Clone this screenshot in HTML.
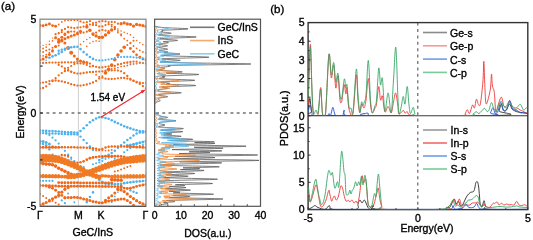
<!DOCTYPE html>
<html><head><meta charset="utf-8"><style>
html,body{margin:0;padding:0;background:#fff;width:533px;height:240px;overflow:hidden}
svg{display:block;will-change:transform;filter:blur(0.3px)}
</style></head><body>
<svg width="533" height="240" viewBox="0 0 533 240" font-family="Liberation Sans, sans-serif" fill="#000">
<defs><clipPath id="cpA"><rect x="40" y="19.2" width="106" height="187.10000000000002"/></clipPath>
<clipPath id="cpD"><rect x="154.6" y="19.2" width="105.9" height="187.10000000000002"/></clipPath>
<clipPath id="cpP1"><rect x="308.1" y="22.6" width="219.69999999999993" height="93.19999999999999"/></clipPath>
<clipPath id="cpP2"><rect x="308.1" y="115.8" width="219.69999999999993" height="93.8"/></clipPath></defs>
<rect width="533" height="240" fill="#fff"/>
<g clip-path="url(#cpA)"><line x1="78.4" y1="19.2" x2="78.4" y2="206.3" stroke="#cfcfcf" stroke-width="1"/><line x1="101.0" y1="19.2" x2="101.0" y2="206.3" stroke="#cfcfcf" stroke-width="1"/><g fill="#f06818"><circle cx="40.0" cy="25.5" r="1.45"/><circle cx="43.1" cy="25.7" r="1.45"/><circle cx="46.2" cy="24.9" r="1.45"/><circle cx="49.4" cy="24.0" r="1.45"/><circle cx="52.5" cy="25.6" r="1.45"/><circle cx="55.6" cy="26.2" r="1.45"/></g><g fill="#f06818"><circle cx="58.7" cy="24.5" r="0.90"/><circle cx="61.8" cy="21.9" r="0.90"/><circle cx="64.9" cy="20.7" r="0.90"/><circle cx="68.1" cy="20.3" r="0.90"/><circle cx="71.2" cy="20.2" r="0.90"/><circle cx="74.3" cy="20.2" r="0.90"/><circle cx="77.4" cy="20.3" r="0.90"/></g><g fill="#f06818"><circle cx="80.5" cy="21.4" r="1.10"/><circle cx="83.6" cy="22.5" r="1.10"/><circle cx="86.8" cy="22.2" r="1.10"/><circle cx="89.9" cy="21.2" r="1.10"/><circle cx="93.0" cy="23.1" r="1.10"/><circle cx="96.1" cy="22.7" r="1.10"/><circle cx="99.2" cy="21.6" r="1.10"/><circle cx="102.4" cy="21.1" r="1.10"/><circle cx="105.5" cy="21.4" r="1.10"/><circle cx="108.6" cy="22.0" r="1.10"/><circle cx="111.7" cy="21.9" r="1.10"/><circle cx="114.8" cy="22.1" r="1.10"/><circle cx="117.9" cy="23.7" r="1.10"/><circle cx="121.1" cy="23.7" r="1.60"/><circle cx="124.2" cy="22.9" r="1.60"/><circle cx="127.3" cy="23.9" r="1.60"/><circle cx="130.4" cy="24.3" r="1.60"/><circle cx="133.5" cy="26.1" r="1.60"/><circle cx="136.6" cy="24.4" r="1.60"/><circle cx="139.8" cy="25.0" r="1.60"/><circle cx="142.9" cy="25.6" r="1.60"/><circle cx="146.0" cy="26.5" r="1.60"/></g><g fill="#f06818"><circle cx="61.8" cy="30.1" r="1.10"/><circle cx="64.9" cy="28.9" r="1.10"/><circle cx="68.1" cy="27.2" r="1.10"/><circle cx="71.2" cy="27.7" r="1.10"/><circle cx="74.3" cy="28.1" r="1.10"/><circle cx="77.4" cy="27.7" r="1.10"/><circle cx="80.5" cy="27.3" r="1.10"/><circle cx="83.6" cy="26.6" r="1.10"/><circle cx="86.8" cy="25.2" r="1.10"/><circle cx="89.9" cy="24.5" r="1.10"/><circle cx="93.0" cy="24.9" r="1.10"/><circle cx="96.1" cy="25.2" r="1.10"/><circle cx="99.2" cy="26.4" r="1.10"/><circle cx="102.4" cy="26.4" r="1.10"/><circle cx="105.5" cy="25.1" r="1.10"/><circle cx="108.6" cy="24.2" r="1.10"/><circle cx="111.7" cy="24.8" r="1.10"/><circle cx="114.8" cy="27.2" r="1.10"/></g><g fill="#f06818"><circle cx="55.6" cy="34.2" r="1.10"/><circle cx="58.7" cy="33.1" r="1.10"/><circle cx="61.8" cy="32.2" r="1.10"/><circle cx="64.9" cy="33.7" r="1.10"/><circle cx="68.1" cy="32.1" r="1.10"/><circle cx="71.2" cy="31.5" r="1.10"/><circle cx="74.3" cy="31.6" r="1.10"/><circle cx="77.4" cy="32.5" r="1.10"/><circle cx="80.5" cy="32.9" r="1.10"/><circle cx="83.6" cy="32.6" r="1.10"/><circle cx="86.8" cy="31.7" r="1.10"/><circle cx="89.9" cy="30.7" r="1.10"/><circle cx="93.0" cy="34.1" r="1.10"/><circle cx="96.1" cy="32.6" r="1.10"/><circle cx="99.2" cy="30.7" r="1.10"/><circle cx="102.4" cy="29.9" r="1.10"/><circle cx="105.5" cy="30.6" r="1.10"/><circle cx="108.6" cy="31.1" r="1.10"/><circle cx="111.7" cy="30.0" r="1.10"/><circle cx="114.8" cy="29.2" r="1.10"/></g><g fill="#f06818"><circle cx="114.8" cy="27.4" r="0.80"/><circle cx="117.9" cy="29.1" r="0.80"/><circle cx="121.1" cy="31.0" r="0.80"/><circle cx="124.2" cy="32.3" r="0.80"/><circle cx="127.3" cy="33.5" r="0.80"/><circle cx="130.4" cy="34.9" r="0.80"/><circle cx="133.5" cy="37.5" r="0.80"/><circle cx="136.6" cy="40.5" r="0.80"/><circle cx="139.8" cy="42.8" r="0.80"/><circle cx="142.9" cy="44.6" r="0.80"/><circle cx="146.0" cy="46.0" r="0.80"/></g><g fill="#f06818"><circle cx="86.8" cy="26.9" r="1.70"/><circle cx="89.9" cy="30.3" r="1.70"/><circle cx="93.0" cy="34.0" r="1.70"/><circle cx="96.1" cy="35.9" r="1.70"/><circle cx="99.2" cy="37.5" r="1.70"/><circle cx="102.4" cy="37.3" r="1.70"/><circle cx="105.5" cy="35.0" r="1.70"/><circle cx="108.6" cy="32.6" r="1.70"/><circle cx="111.7" cy="30.0" r="1.70"/><circle cx="114.8" cy="27.3" r="1.10"/></g><g fill="#f06818"><circle cx="80.5" cy="44.4" r="0.80"/><circle cx="83.6" cy="41.6" r="0.80"/><circle cx="86.8" cy="39.5" r="0.80"/><circle cx="89.9" cy="37.6" r="0.80"/><circle cx="93.0" cy="35.2" r="0.80"/></g><g fill="#f06818"><circle cx="58.7" cy="42.2" r="1.50"/><circle cx="61.8" cy="40.2" r="1.50"/><circle cx="64.9" cy="38.7" r="1.50"/><circle cx="68.1" cy="37.3" r="1.50"/><circle cx="71.2" cy="36.1" r="1.50"/><circle cx="74.3" cy="34.9" r="1.50"/><circle cx="77.4" cy="33.7" r="1.50"/><circle cx="80.5" cy="31.2" r="1.50"/></g><g fill="#f06818"><circle cx="40.0" cy="60.0" r="1.50"/><circle cx="43.1" cy="59.1" r="1.50"/><circle cx="46.2" cy="57.0" r="1.50"/><circle cx="49.4" cy="54.5" r="1.50"/><circle cx="52.5" cy="50.9" r="1.50"/><circle cx="55.6" cy="46.6" r="1.50"/><circle cx="58.7" cy="41.3" r="1.50"/><circle cx="61.8" cy="37.2" r="1.50"/><circle cx="64.9" cy="34.6" r="1.50"/><circle cx="68.1" cy="32.0" r="1.50"/></g><g fill="#f06818"><circle cx="55.6" cy="37.8" r="1.50"/><circle cx="58.7" cy="39.4" r="1.50"/><circle cx="61.8" cy="41.0" r="1.50"/><circle cx="64.9" cy="43.1" r="1.50"/><circle cx="68.1" cy="48.0" r="2.00"/><circle cx="71.2" cy="52.7" r="2.00"/><circle cx="74.3" cy="56.0" r="1.50"/><circle cx="77.4" cy="59.1" r="1.50"/><circle cx="80.5" cy="61.1" r="1.50"/><circle cx="83.6" cy="61.9" r="1.50"/><circle cx="86.8" cy="62.6" r="1.50"/></g><g fill="#f06818"><circle cx="40.0" cy="47.0" r="0.90"/><circle cx="43.1" cy="48.5" r="0.90"/><circle cx="46.2" cy="47.1" r="0.90"/><circle cx="49.4" cy="44.3" r="0.90"/><circle cx="52.5" cy="40.8" r="0.90"/><circle cx="55.6" cy="37.5" r="0.90"/><circle cx="58.7" cy="33.4" r="0.90"/><circle cx="61.8" cy="30.1" r="0.90"/></g><g fill="#f06818"><circle cx="40.0" cy="43.0" r="0.70"/><circle cx="43.1" cy="45.4" r="0.70"/><circle cx="46.2" cy="44.6" r="0.70"/><circle cx="49.4" cy="41.3" r="0.70"/><circle cx="52.5" cy="38.1" r="0.70"/></g><g fill="#f06818"><circle cx="40.0" cy="51.0" r="1.00"/><circle cx="43.1" cy="52.0" r="1.00"/><circle cx="46.2" cy="50.6" r="1.00"/><circle cx="49.4" cy="49.6" r="1.00"/><circle cx="52.5" cy="47.8" r="1.00"/><circle cx="55.6" cy="46.6" r="1.00"/><circle cx="58.7" cy="45.6" r="1.00"/></g><g fill="#f06818"><circle cx="40.0" cy="55.8" r="0.90"/><circle cx="43.1" cy="55.8" r="0.90"/><circle cx="46.2" cy="54.6" r="0.90"/><circle cx="49.4" cy="52.6" r="0.90"/><circle cx="52.5" cy="50.2" r="0.90"/></g><g fill="#f06818"><circle cx="40.0" cy="63.0" r="1.15"/><circle cx="43.1" cy="63.0" r="1.15"/><circle cx="46.2" cy="62.8" r="1.15"/><circle cx="49.4" cy="62.6" r="1.15"/><circle cx="52.5" cy="62.6" r="1.15"/><circle cx="55.6" cy="62.6" r="1.15"/><circle cx="58.7" cy="62.6" r="1.15"/><circle cx="61.8" cy="62.5" r="1.15"/><circle cx="64.9" cy="62.3" r="1.15"/><circle cx="68.1" cy="62.3" r="1.15"/><circle cx="71.2" cy="62.3" r="1.15"/><circle cx="74.3" cy="62.4" r="1.15"/><circle cx="77.4" cy="61.4" r="1.15"/><circle cx="80.5" cy="61.0" r="1.15"/><circle cx="83.6" cy="61.7" r="1.15"/></g><g fill="#f06818"><circle cx="58.7" cy="64.9" r="1.10"/><circle cx="61.8" cy="66.4" r="1.10"/><circle cx="64.9" cy="68.4" r="1.10"/><circle cx="68.1" cy="70.2" r="1.10"/><circle cx="71.2" cy="71.8" r="1.10"/></g><g fill="#f06818"><circle cx="64.9" cy="70.4" r="1.10"/><circle cx="68.1" cy="67.8" r="1.10"/><circle cx="71.2" cy="66.0" r="1.10"/><circle cx="74.3" cy="64.1" r="1.10"/><circle cx="77.4" cy="63.3" r="1.10"/><circle cx="80.5" cy="63.4" r="1.10"/><circle cx="83.6" cy="63.8" r="1.10"/><circle cx="86.8" cy="64.9" r="1.10"/><circle cx="89.9" cy="66.5" r="1.10"/><circle cx="93.0" cy="66.0" r="1.10"/></g><g fill="#f06818"><circle cx="40.0" cy="88.4" r="1.15"/><circle cx="43.1" cy="88.0" r="1.15"/><circle cx="46.2" cy="86.4" r="1.15"/><circle cx="49.4" cy="83.9" r="1.15"/><circle cx="52.5" cy="81.2" r="1.15"/><circle cx="55.6" cy="78.2" r="1.15"/><circle cx="58.7" cy="75.3" r="1.15"/><circle cx="61.8" cy="73.1" r="1.15"/><circle cx="64.9" cy="71.2" r="1.15"/><circle cx="68.1" cy="70.6" r="1.15"/><circle cx="71.2" cy="71.7" r="1.15"/><circle cx="74.3" cy="72.9" r="1.15"/><circle cx="77.4" cy="73.6" r="1.15"/><circle cx="80.5" cy="73.5" r="1.15"/><circle cx="83.6" cy="73.0" r="1.15"/><circle cx="86.8" cy="72.5" r="1.15"/><circle cx="89.9" cy="72.1" r="1.15"/><circle cx="93.0" cy="71.9" r="1.15"/><circle cx="96.1" cy="71.7" r="1.15"/><circle cx="99.2" cy="71.6" r="1.15"/><circle cx="102.4" cy="71.3" r="1.15"/><circle cx="105.5" cy="70.7" r="1.15"/><circle cx="108.6" cy="70.5" r="1.15"/><circle cx="111.7" cy="70.4" r="1.15"/><circle cx="114.8" cy="70.3" r="1.15"/><circle cx="117.9" cy="70.6" r="1.15"/><circle cx="121.1" cy="71.3" r="1.15"/><circle cx="124.2" cy="73.2" r="1.15"/><circle cx="127.3" cy="76.0" r="1.15"/><circle cx="130.4" cy="78.9" r="1.15"/><circle cx="133.5" cy="80.9" r="1.15"/><circle cx="136.6" cy="82.4" r="1.15"/><circle cx="139.8" cy="84.0" r="1.15"/><circle cx="142.9" cy="86.2" r="1.15"/><circle cx="146.0" cy="88.5" r="1.15"/></g><g fill="#f06818"><circle cx="40.0" cy="83.1" r="1.15"/><circle cx="43.1" cy="82.6" r="1.15"/><circle cx="46.2" cy="82.1" r="1.15"/><circle cx="49.4" cy="81.1" r="1.15"/><circle cx="52.5" cy="80.5" r="1.15"/><circle cx="55.6" cy="80.5" r="1.15"/><circle cx="58.7" cy="80.9" r="1.15"/><circle cx="61.8" cy="81.4" r="1.15"/><circle cx="64.9" cy="82.2" r="1.15"/><circle cx="68.1" cy="83.1" r="1.15"/><circle cx="71.2" cy="84.2" r="1.15"/><circle cx="74.3" cy="85.0" r="1.15"/><circle cx="77.4" cy="85.6" r="1.15"/><circle cx="80.5" cy="85.6" r="1.15"/><circle cx="83.6" cy="85.2" r="1.15"/><circle cx="86.8" cy="84.5" r="1.15"/><circle cx="89.9" cy="83.6" r="1.15"/><circle cx="93.0" cy="82.5" r="1.15"/><circle cx="96.1" cy="80.9" r="1.15"/><circle cx="99.2" cy="78.5" r="1.15"/><circle cx="102.4" cy="77.7" r="1.15"/><circle cx="105.5" cy="78.7" r="1.15"/><circle cx="108.6" cy="78.9" r="1.15"/><circle cx="111.7" cy="79.0" r="1.15"/><circle cx="114.8" cy="78.8" r="1.15"/><circle cx="117.9" cy="78.3" r="1.15"/><circle cx="121.1" cy="77.9" r="1.15"/><circle cx="124.2" cy="78.0" r="1.15"/><circle cx="127.3" cy="78.6" r="1.15"/><circle cx="130.4" cy="79.7" r="1.15"/><circle cx="133.5" cy="80.7" r="1.15"/><circle cx="136.6" cy="81.8" r="1.15"/><circle cx="139.8" cy="82.7" r="1.15"/><circle cx="142.9" cy="83.1" r="1.15"/><circle cx="146.0" cy="83.1" r="1.15"/></g><g fill="#f06818"><circle cx="89.9" cy="63.6" r="1.15"/><circle cx="93.0" cy="65.8" r="1.15"/><circle cx="96.1" cy="66.8" r="1.15"/><circle cx="99.2" cy="67.5" r="1.15"/><circle cx="102.4" cy="67.4" r="1.15"/><circle cx="105.5" cy="66.8" r="1.15"/><circle cx="108.6" cy="66.3" r="1.15"/><circle cx="111.7" cy="66.1" r="1.15"/><circle cx="114.8" cy="65.9" r="1.15"/><circle cx="117.9" cy="64.5" r="1.15"/><circle cx="121.1" cy="64.0" r="1.15"/><circle cx="124.2" cy="62.9" r="1.15"/><circle cx="127.3" cy="62.5" r="1.15"/><circle cx="130.4" cy="62.0" r="1.15"/><circle cx="133.5" cy="61.6" r="1.15"/><circle cx="136.6" cy="61.7" r="1.15"/><circle cx="139.8" cy="62.7" r="1.15"/><circle cx="142.9" cy="63.1" r="1.15"/><circle cx="146.0" cy="63.5" r="1.15"/></g><g fill="#f06818"><circle cx="111.7" cy="68.9" r="0.90"/><circle cx="114.8" cy="68.3" r="0.90"/><circle cx="117.9" cy="67.6" r="0.90"/><circle cx="121.1" cy="66.6" r="0.90"/><circle cx="124.2" cy="66.2" r="0.90"/><circle cx="127.3" cy="65.6" r="0.90"/><circle cx="130.4" cy="64.5" r="0.90"/><circle cx="133.5" cy="64.1" r="0.90"/><circle cx="136.6" cy="63.6" r="0.90"/></g><g fill="#f06818"><circle cx="89.9" cy="72.0" r="0.90"/><circle cx="93.0" cy="72.2" r="0.90"/><circle cx="96.1" cy="74.7" r="0.90"/><circle cx="99.2" cy="76.7" r="0.90"/><circle cx="102.4" cy="76.1" r="0.90"/><circle cx="105.5" cy="73.1" r="0.90"/></g><g fill="#f06818"><circle cx="105.5" cy="72.9" r="1.80"/><circle cx="108.6" cy="69.2" r="1.80"/><circle cx="111.7" cy="65.0" r="1.80"/><circle cx="114.8" cy="59.8" r="1.80"/><circle cx="117.9" cy="55.0" r="1.80"/><circle cx="121.1" cy="51.0" r="1.80"/><circle cx="124.2" cy="47.3" r="1.80"/><circle cx="127.3" cy="44.9" r="1.00"/><circle cx="130.4" cy="42.8" r="1.00"/><circle cx="133.5" cy="40.7" r="1.00"/></g><g fill="#f06818"><circle cx="117.9" cy="32.5" r="0.90"/><circle cx="121.1" cy="35.5" r="0.90"/><circle cx="124.2" cy="38.7" r="0.90"/><circle cx="127.3" cy="40.6" r="0.90"/><circle cx="130.4" cy="43.3" r="0.90"/><circle cx="133.5" cy="46.0" r="0.90"/><circle cx="136.6" cy="48.4" r="0.90"/><circle cx="139.8" cy="50.4" r="0.90"/><circle cx="142.9" cy="51.9" r="0.90"/><circle cx="146.0" cy="53.0" r="0.90"/></g><g fill="#f06818"><circle cx="130.4" cy="48.5" r="1.40"/><circle cx="133.5" cy="51.6" r="1.40"/><circle cx="136.6" cy="54.8" r="1.40"/><circle cx="139.8" cy="57.2" r="1.40"/><circle cx="142.9" cy="59.1" r="1.40"/><circle cx="146.0" cy="60.0" r="1.40"/></g><g fill="#f06818"><circle cx="111.7" cy="26.7" r="0.90"/><circle cx="114.8" cy="28.7" r="0.90"/><circle cx="117.9" cy="30.9" r="0.90"/><circle cx="121.1" cy="34.2" r="0.90"/></g><g fill="#f06818"><circle cx="86.8" cy="46.4" r="0.80"/><circle cx="89.9" cy="43.3" r="0.80"/><circle cx="93.0" cy="41.6" r="0.80"/><circle cx="96.1" cy="40.9" r="0.80"/><circle cx="99.2" cy="41.2" r="0.80"/></g><g fill="#4cb2ee"><circle cx="40.0" cy="63.5" r="0.80"/><circle cx="43.1" cy="63.0" r="0.80"/><circle cx="46.2" cy="60.3" r="0.80"/><circle cx="49.4" cy="57.7" r="1.30"/><circle cx="52.5" cy="56.4" r="1.30"/><circle cx="55.6" cy="55.2" r="1.30"/><circle cx="58.7" cy="53.6" r="1.30"/><circle cx="61.8" cy="51.9" r="1.30"/><circle cx="64.9" cy="49.7" r="1.30"/><circle cx="68.1" cy="47.8" r="1.30"/><circle cx="71.2" cy="47.3" r="1.30"/><circle cx="74.3" cy="46.9" r="1.30"/><circle cx="77.4" cy="46.8" r="1.30"/><circle cx="80.5" cy="49.1" r="1.30"/><circle cx="83.6" cy="52.1" r="1.30"/><circle cx="86.8" cy="54.6" r="1.30"/><circle cx="89.9" cy="57.0" r="1.30"/><circle cx="93.0" cy="58.9" r="1.30"/><circle cx="96.1" cy="60.0" r="1.10"/><circle cx="99.2" cy="60.4" r="1.10"/><circle cx="102.4" cy="60.4" r="1.10"/><circle cx="105.5" cy="60.0" r="1.10"/><circle cx="108.6" cy="59.5" r="1.10"/><circle cx="111.7" cy="58.9" r="1.10"/><circle cx="114.8" cy="58.0" r="1.10"/><circle cx="117.9" cy="57.2" r="1.10"/><circle cx="121.1" cy="57.0" r="1.10"/><circle cx="124.2" cy="56.9" r="1.10"/><circle cx="127.3" cy="56.9" r="1.10"/><circle cx="130.4" cy="56.9" r="1.10"/><circle cx="133.5" cy="57.3" r="1.10"/><circle cx="136.6" cy="57.7" r="1.10"/><circle cx="139.8" cy="58.1" r="1.10"/><circle cx="142.9" cy="58.4" r="1.10"/><circle cx="146.0" cy="58.5" r="1.10"/></g><g fill="#4cb2ee"><circle cx="58.7" cy="50.7" r="1.20"/><circle cx="61.8" cy="49.6" r="1.20"/><circle cx="64.9" cy="48.7" r="1.20"/></g><g fill="#4cb2ee"><circle cx="127.3" cy="63.8" r="0.80"/><circle cx="130.4" cy="63.8" r="0.80"/><circle cx="133.5" cy="63.8" r="0.80"/><circle cx="136.6" cy="63.7" r="0.80"/><circle cx="139.8" cy="63.3" r="0.80"/><circle cx="142.9" cy="63.1" r="0.80"/><circle cx="146.0" cy="63.0" r="0.80"/></g><g fill="#4cb2ee"><circle cx="40.0" cy="130.5" r="1.30"/><circle cx="43.1" cy="130.7" r="1.30"/><circle cx="46.2" cy="130.9" r="1.30"/><circle cx="49.4" cy="131.0" r="1.30"/><circle cx="52.5" cy="131.1" r="1.30"/><circle cx="55.6" cy="131.3" r="1.30"/><circle cx="58.7" cy="131.5" r="1.30"/><circle cx="61.8" cy="131.7" r="1.30"/><circle cx="64.9" cy="132.0" r="1.30"/><circle cx="68.1" cy="132.2" r="1.30"/><circle cx="71.2" cy="132.4" r="1.30"/><circle cx="74.3" cy="132.5" r="1.30"/><circle cx="77.4" cy="132.8" r="1.30"/><circle cx="80.5" cy="131.0" r="1.30"/><circle cx="83.6" cy="128.2" r="1.30"/><circle cx="86.8" cy="125.3" r="1.30"/><circle cx="89.9" cy="122.2" r="1.30"/><circle cx="93.0" cy="120.3" r="1.30"/><circle cx="96.1" cy="118.5" r="1.30"/><circle cx="99.2" cy="117.2" r="1.30"/><circle cx="102.4" cy="117.3" r="1.30"/><circle cx="105.5" cy="118.0" r="1.30"/><circle cx="108.6" cy="118.8" r="1.30"/><circle cx="111.7" cy="120.2" r="1.30"/><circle cx="114.8" cy="121.9" r="1.30"/><circle cx="117.9" cy="123.3" r="1.30"/><circle cx="121.1" cy="124.7" r="1.30"/><circle cx="124.2" cy="126.2" r="1.30"/><circle cx="127.3" cy="127.4" r="1.30"/><circle cx="130.4" cy="128.4" r="1.30"/><circle cx="133.5" cy="129.5" r="1.30"/><circle cx="136.6" cy="130.3" r="1.30"/><circle cx="139.8" cy="131.0" r="1.30"/><circle cx="142.9" cy="131.2" r="1.30"/><circle cx="146.0" cy="131.2" r="1.30"/></g><g fill="#4cb2ee"><circle cx="40.0" cy="133.0" r="1.20"/><circle cx="43.1" cy="133.1" r="1.20"/><circle cx="46.2" cy="133.2" r="1.20"/><circle cx="49.4" cy="133.4" r="1.20"/><circle cx="52.5" cy="133.5" r="1.20"/><circle cx="55.6" cy="133.6" r="1.20"/><circle cx="58.7" cy="133.7" r="1.20"/><circle cx="61.8" cy="133.9" r="1.20"/><circle cx="64.9" cy="134.0" r="1.20"/><circle cx="68.1" cy="134.2" r="1.20"/><circle cx="71.2" cy="134.3" r="1.20"/><circle cx="74.3" cy="134.3" r="1.20"/><circle cx="77.4" cy="134.5" r="1.20"/><circle cx="80.5" cy="136.6" r="1.20"/><circle cx="83.6" cy="139.9" r="1.20"/><circle cx="86.8" cy="143.1" r="1.20"/><circle cx="89.9" cy="146.4" r="1.20"/><circle cx="93.0" cy="150.0" r="1.20"/></g><g fill="#4cb2ee"><circle cx="99.2" cy="159.9" r="1.25"/><circle cx="102.4" cy="158.1" r="1.25"/><circle cx="105.5" cy="156.3" r="1.25"/><circle cx="108.6" cy="154.7" r="1.25"/><circle cx="111.7" cy="152.9" r="1.25"/><circle cx="114.8" cy="150.7" r="1.25"/><circle cx="117.9" cy="147.8" r="1.25"/><circle cx="121.1" cy="145.2" r="1.25"/><circle cx="124.2" cy="142.6" r="1.25"/><circle cx="127.3" cy="140.1" r="1.25"/><circle cx="130.4" cy="137.9" r="1.25"/><circle cx="133.5" cy="135.4" r="1.25"/><circle cx="136.6" cy="133.5" r="1.25"/><circle cx="139.8" cy="132.5" r="1.25"/><circle cx="142.9" cy="132.4" r="1.25"/><circle cx="146.0" cy="132.4" r="1.25"/></g><g fill="#4cb2ee"><circle cx="46.2" cy="133.4" r="1.10"/><circle cx="49.4" cy="135.1" r="1.10"/><circle cx="52.5" cy="137.7" r="1.10"/><circle cx="55.6" cy="140.3" r="1.10"/><circle cx="58.7" cy="143.6" r="1.10"/><circle cx="61.8" cy="147.2" r="1.10"/><circle cx="64.9" cy="150.8" r="1.10"/><circle cx="68.1" cy="154.5" r="1.10"/><circle cx="71.2" cy="157.7" r="1.10"/><circle cx="74.3" cy="161.2" r="1.10"/><circle cx="77.4" cy="164.7" r="1.10"/><circle cx="80.5" cy="166.2" r="1.10"/><circle cx="83.6" cy="167.0" r="1.10"/></g><g fill="#4cb2ee"><circle cx="40.0" cy="141.2" r="1.50"/><circle cx="43.1" cy="141.5" r="1.50"/><circle cx="46.2" cy="142.6" r="1.50"/><circle cx="49.4" cy="143.9" r="1.50"/><circle cx="52.5" cy="146.8" r="1.50"/></g><g fill="#4cb2ee"><circle cx="40.0" cy="143.5" r="1.20"/><circle cx="43.1" cy="144.0" r="1.20"/><circle cx="46.2" cy="145.2" r="1.20"/><circle cx="49.4" cy="149.4" r="1.20"/><circle cx="52.5" cy="154.8" r="1.20"/></g><g fill="#4cb2ee"><circle cx="127.3" cy="145.4" r="1.50"/><circle cx="130.4" cy="144.9" r="1.50"/><circle cx="133.5" cy="144.3" r="1.50"/><circle cx="136.6" cy="143.6" r="1.50"/><circle cx="139.8" cy="142.8" r="1.50"/><circle cx="142.9" cy="142.0" r="1.50"/><circle cx="146.0" cy="141.1" r="1.50"/></g><g fill="#4cb2ee"><circle cx="124.2" cy="152.3" r="1.10"/><circle cx="127.3" cy="150.1" r="1.10"/><circle cx="130.4" cy="148.1" r="1.10"/><circle cx="133.5" cy="146.8" r="1.10"/><circle cx="136.6" cy="146.9" r="1.10"/><circle cx="139.8" cy="146.1" r="1.10"/><circle cx="142.9" cy="145.0" r="1.10"/><circle cx="146.0" cy="144.0" r="1.10"/></g><g fill="#4cb2ee"><circle cx="93.0" cy="164.2" r="1.00"/><circle cx="96.1" cy="163.3" r="1.00"/><circle cx="99.2" cy="162.4" r="1.00"/><circle cx="102.4" cy="160.9" r="1.00"/><circle cx="105.5" cy="159.1" r="1.00"/><circle cx="108.6" cy="157.7" r="1.00"/><circle cx="111.7" cy="157.2" r="1.00"/><circle cx="114.8" cy="158.8" r="1.00"/></g><g fill="#4cb2ee"><circle cx="40.0" cy="180.8" r="1.10"/><circle cx="43.1" cy="180.8" r="1.10"/><circle cx="46.2" cy="180.8" r="1.10"/><circle cx="49.4" cy="180.8" r="1.10"/><circle cx="52.5" cy="180.9" r="1.10"/></g><g fill="#4cb2ee"><circle cx="99.2" cy="179.5" r="1.35"/><circle cx="102.4" cy="182.0" r="1.35"/><circle cx="105.5" cy="183.6" r="1.35"/><circle cx="108.6" cy="183.9" r="1.35"/><circle cx="111.7" cy="184.1" r="1.35"/><circle cx="114.8" cy="184.2" r="1.35"/><circle cx="117.9" cy="184.1" r="1.35"/><circle cx="121.1" cy="183.8" r="1.35"/><circle cx="124.2" cy="183.2" r="1.35"/><circle cx="127.3" cy="182.7" r="1.35"/><circle cx="130.4" cy="182.3" r="1.35"/><circle cx="133.5" cy="181.9" r="1.35"/><circle cx="136.6" cy="181.6" r="1.35"/><circle cx="139.8" cy="181.3" r="1.35"/><circle cx="142.9" cy="181.0" r="1.35"/><circle cx="146.0" cy="180.8" r="1.35"/></g><g fill="#4cb2ee"><circle cx="64.9" cy="154.9" r="0.90"/><circle cx="68.1" cy="157.0" r="0.90"/><circle cx="71.2" cy="159.0" r="0.90"/><circle cx="74.3" cy="161.4" r="0.90"/><circle cx="77.4" cy="164.7" r="0.90"/></g><g fill="#4cb2ee"><circle cx="68.1" cy="193.6" r="1.00"/><circle cx="71.2" cy="197.9" r="1.00"/><circle cx="74.3" cy="202.3" r="1.00"/></g><g fill="#4cb2ee"><circle cx="86.8" cy="202.4" r="1.10"/><circle cx="89.9" cy="197.1" r="1.10"/><circle cx="93.0" cy="192.5" r="1.10"/></g><g fill="#4cb2ee"><circle cx="111.7" cy="202.3" r="0.90"/><circle cx="114.8" cy="196.4" r="0.90"/><circle cx="117.9" cy="192.1" r="0.90"/><circle cx="121.1" cy="188.6" r="0.90"/></g><g fill="#4cb2ee"><circle cx="130.4" cy="190.4" r="1.20"/><circle cx="133.5" cy="191.7" r="1.20"/><circle cx="136.6" cy="192.9" r="1.20"/></g><g fill="#4cb2ee"><circle cx="96.1" cy="177.0" r="1.00"/><circle cx="99.2" cy="176.1" r="1.00"/><circle cx="102.4" cy="176.5" r="1.00"/></g><g fill="#4cb2ee"><circle cx="58.7" cy="196.7" r="1.10"/><circle cx="61.8" cy="200.4" r="1.10"/><circle cx="64.9" cy="203.2" r="1.10"/></g><g fill="#4cb2ee"><circle cx="99.2" cy="179.9" r="1.10"/></g><g fill="#4cb2ee"><circle cx="86.8" cy="201.6" r="1.20"/><circle cx="89.9" cy="196.9" r="1.20"/><circle cx="93.0" cy="192.2" r="1.20"/></g><g fill="#f06818"><circle cx="40.0" cy="147.3" r="1.50"/><circle cx="43.1" cy="147.3" r="1.50"/><circle cx="46.2" cy="147.3" r="1.50"/><circle cx="49.4" cy="147.3" r="1.50"/><circle cx="52.5" cy="147.3" r="1.50"/><circle cx="55.6" cy="147.3" r="1.50"/><circle cx="58.7" cy="147.3" r="1.50"/><circle cx="61.8" cy="147.3" r="1.25"/><circle cx="64.9" cy="147.3" r="1.25"/><circle cx="68.1" cy="147.3" r="1.25"/><circle cx="71.2" cy="147.3" r="1.25"/><circle cx="74.3" cy="147.3" r="1.25"/><circle cx="77.4" cy="147.4" r="1.25"/><circle cx="80.5" cy="147.5" r="1.25"/><circle cx="83.6" cy="147.5" r="1.25"/><circle cx="86.8" cy="147.7" r="1.25"/><circle cx="89.9" cy="148.0" r="1.25"/><circle cx="93.0" cy="148.2" r="1.25"/><circle cx="96.1" cy="148.7" r="1.25"/><circle cx="99.2" cy="149.4" r="1.25"/><circle cx="102.4" cy="149.1" r="1.25"/><circle cx="105.5" cy="147.5" r="1.25"/><circle cx="108.6" cy="146.7" r="1.25"/><circle cx="111.7" cy="146.6" r="1.25"/><circle cx="114.8" cy="146.6" r="1.25"/><circle cx="117.9" cy="146.6" r="1.25"/><circle cx="121.1" cy="146.6" r="1.25"/><circle cx="124.2" cy="146.6" r="1.25"/><circle cx="127.3" cy="146.6" r="1.50"/><circle cx="130.4" cy="146.7" r="1.50"/><circle cx="133.5" cy="146.7" r="1.50"/><circle cx="136.6" cy="146.9" r="1.50"/><circle cx="139.8" cy="147.1" r="1.50"/><circle cx="142.9" cy="147.3" r="1.50"/><circle cx="146.0" cy="147.4" r="1.50"/></g><g fill="#f06818"><circle cx="96.1" cy="150.6" r="0.90"/><circle cx="99.2" cy="150.4" r="0.90"/><circle cx="102.4" cy="150.4" r="0.90"/><circle cx="105.5" cy="150.6" r="0.90"/><circle cx="108.6" cy="150.5" r="0.90"/><circle cx="111.7" cy="149.9" r="0.90"/></g><g fill="#f06818"><circle cx="68.1" cy="161.6" r="1.04"/><circle cx="71.2" cy="162.1" r="1.10"/><circle cx="74.3" cy="162.5" r="1.17"/><circle cx="77.4" cy="162.7" r="1.23"/><circle cx="80.5" cy="162.3" r="1.29"/><circle cx="83.6" cy="161.3" r="1.35"/><circle cx="86.8" cy="159.7" r="1.42"/><circle cx="89.9" cy="158.3" r="1.45"/><circle cx="93.0" cy="157.5" r="1.45"/><circle cx="96.1" cy="157.1" r="1.45"/><circle cx="99.2" cy="156.6" r="1.45"/><circle cx="102.4" cy="156.4" r="1.45"/><circle cx="105.5" cy="156.3" r="1.45"/><circle cx="108.6" cy="156.2" r="1.45"/><circle cx="111.7" cy="156.2" r="1.45"/><circle cx="114.8" cy="156.2" r="1.45"/><circle cx="117.9" cy="156.3" r="1.45"/><circle cx="121.1" cy="156.4" r="1.45"/><circle cx="124.2" cy="156.9" r="1.45"/></g><g fill="#f06818"><circle cx="61.8" cy="155.0" r="1.20"/><circle cx="64.9" cy="155.4" r="1.20"/><circle cx="68.1" cy="155.9" r="1.20"/></g><g fill="#f06818"><circle cx="40.0" cy="185.5" r="1.45"/><circle cx="43.1" cy="185.6" r="1.45"/><circle cx="46.2" cy="185.7" r="1.45"/><circle cx="49.4" cy="185.8" r="1.45"/><circle cx="52.5" cy="185.9" r="1.45"/><circle cx="55.6" cy="186.0" r="1.45"/><circle cx="58.7" cy="186.2" r="1.45"/><circle cx="61.8" cy="186.2" r="1.45"/><circle cx="64.9" cy="186.3" r="1.45"/><circle cx="68.1" cy="186.3" r="1.45"/><circle cx="71.2" cy="186.3" r="1.45"/><circle cx="74.3" cy="186.3" r="1.45"/><circle cx="77.4" cy="186.3" r="1.45"/><circle cx="80.5" cy="186.3" r="1.45"/><circle cx="83.6" cy="186.3" r="1.45"/><circle cx="86.8" cy="186.3" r="1.45"/><circle cx="89.9" cy="186.3" r="1.45"/><circle cx="93.0" cy="186.4" r="1.45"/><circle cx="96.1" cy="186.4" r="1.45"/><circle cx="99.2" cy="186.4" r="1.45"/><circle cx="102.4" cy="186.5" r="1.45"/><circle cx="105.5" cy="186.5" r="1.45"/><circle cx="108.6" cy="186.5" r="1.45"/><circle cx="111.7" cy="186.6" r="1.45"/><circle cx="114.8" cy="186.6" r="1.45"/><circle cx="117.9" cy="186.8" r="1.45"/><circle cx="121.1" cy="187.4" r="1.45"/><circle cx="124.2" cy="188.1" r="1.45"/><circle cx="127.3" cy="188.5" r="1.45"/><circle cx="130.4" cy="188.2" r="1.45"/><circle cx="133.5" cy="187.4" r="1.45"/><circle cx="136.6" cy="186.4" r="1.45"/><circle cx="139.8" cy="185.6" r="1.45"/><circle cx="142.9" cy="185.0" r="1.45"/><circle cx="146.0" cy="184.5" r="1.45"/></g><g fill="#f06818"><circle cx="58.7" cy="182.6" r="1.45"/><circle cx="61.8" cy="182.7" r="1.45"/><circle cx="64.9" cy="182.7" r="1.45"/><circle cx="68.1" cy="182.7" r="1.45"/><circle cx="71.2" cy="182.8" r="1.45"/><circle cx="74.3" cy="182.8" r="1.45"/><circle cx="77.4" cy="182.8" r="1.45"/><circle cx="80.5" cy="182.9" r="1.45"/><circle cx="83.6" cy="182.9" r="1.45"/><circle cx="86.8" cy="182.9" r="1.45"/><circle cx="89.9" cy="183.0" r="1.45"/><circle cx="93.0" cy="183.0" r="1.45"/><circle cx="96.1" cy="183.0" r="1.45"/><circle cx="99.2" cy="183.0" r="1.45"/><circle cx="102.4" cy="183.0" r="1.45"/><circle cx="105.5" cy="183.0" r="1.45"/><circle cx="108.6" cy="183.0" r="1.45"/><circle cx="111.7" cy="183.0" r="1.45"/></g><g fill="#f06818"><circle cx="111.7" cy="179.6" r="1.80"/><circle cx="114.8" cy="179.9" r="1.80"/><circle cx="117.9" cy="180.1" r="1.80"/><circle cx="121.1" cy="180.3" r="1.80"/></g><g fill="#f06818"><circle cx="40.0" cy="205.0" r="1.60"/><circle cx="43.1" cy="203.9" r="1.60"/><circle cx="46.2" cy="202.5" r="1.60"/><circle cx="49.4" cy="200.9" r="1.60"/><circle cx="52.5" cy="198.8" r="1.60"/><circle cx="55.6" cy="197.2" r="1.60"/><circle cx="58.7" cy="195.2" r="1.60"/><circle cx="61.8" cy="192.2" r="1.60"/><circle cx="64.9" cy="189.3" r="1.60"/><circle cx="68.1" cy="187.4" r="1.60"/></g><g fill="#f06818"><circle cx="46.2" cy="186.1" r="1.45"/><circle cx="49.4" cy="187.3" r="1.45"/><circle cx="52.5" cy="188.3" r="1.45"/><circle cx="55.6" cy="190.2" r="1.45"/><circle cx="58.7" cy="192.5" r="1.45"/><circle cx="61.8" cy="195.4" r="1.45"/><circle cx="64.9" cy="198.1" r="1.45"/></g><g fill="#f06818"><circle cx="64.9" cy="197.4" r="1.50"/><circle cx="68.1" cy="197.6" r="1.50"/><circle cx="71.2" cy="197.5" r="1.50"/><circle cx="74.3" cy="197.3" r="1.50"/><circle cx="77.4" cy="197.4" r="1.50"/><circle cx="80.5" cy="198.1" r="1.50"/><circle cx="83.6" cy="199.0" r="1.50"/><circle cx="86.8" cy="199.6" r="1.50"/><circle cx="89.9" cy="200.4" r="1.50"/><circle cx="93.0" cy="201.6" r="1.50"/><circle cx="96.1" cy="202.1" r="1.50"/><circle cx="99.2" cy="202.7" r="1.50"/><circle cx="102.4" cy="202.8" r="1.50"/><circle cx="105.5" cy="202.1" r="1.50"/><circle cx="108.6" cy="201.1" r="1.50"/><circle cx="111.7" cy="200.6" r="1.50"/><circle cx="114.8" cy="200.1" r="1.50"/><circle cx="117.9" cy="199.6" r="1.50"/><circle cx="121.1" cy="199.1" r="1.50"/><circle cx="124.2" cy="199.1" r="1.50"/><circle cx="127.3" cy="200.6" r="1.50"/><circle cx="130.4" cy="202.6" r="1.50"/><circle cx="133.5" cy="205.2" r="1.50"/></g><g fill="#f06818"><circle cx="105.5" cy="200.3" r="1.50"/><circle cx="108.6" cy="197.7" r="1.50"/><circle cx="111.7" cy="195.7" r="1.50"/><circle cx="114.8" cy="193.0" r="1.50"/><circle cx="117.9" cy="189.6" r="1.50"/><circle cx="121.1" cy="185.9" r="1.50"/></g><g fill="#f06818"><circle cx="117.9" cy="188.8" r="1.60"/><circle cx="121.1" cy="190.0" r="1.60"/><circle cx="124.2" cy="191.6" r="1.60"/><circle cx="127.3" cy="193.9" r="1.60"/><circle cx="130.4" cy="196.5" r="1.60"/><circle cx="133.5" cy="198.6" r="1.60"/><circle cx="136.6" cy="200.7" r="1.60"/><circle cx="139.8" cy="202.6" r="1.60"/><circle cx="142.9" cy="203.9" r="1.60"/><circle cx="146.0" cy="204.8" r="1.60"/></g><g fill="#f06818"><circle cx="40.0" cy="194.0" r="1.00"/><circle cx="43.1" cy="196.1" r="1.00"/><circle cx="46.2" cy="198.1" r="1.00"/><circle cx="49.4" cy="199.7" r="1.00"/><circle cx="52.5" cy="200.9" r="1.00"/><circle cx="55.6" cy="202.7" r="1.00"/><circle cx="58.7" cy="204.4" r="1.00"/></g><g fill="#f06818"><circle cx="114.8" cy="171.6" r="1.00"/><circle cx="117.9" cy="170.7" r="1.00"/><circle cx="121.1" cy="169.5" r="1.00"/><circle cx="124.2" cy="168.3" r="1.00"/><circle cx="127.3" cy="167.1" r="1.00"/><circle cx="130.4" cy="165.9" r="1.00"/></g><g fill="#f06818"><circle cx="40.0" cy="163.0" r="1.80"/><circle cx="43.1" cy="163.6" r="1.80"/><circle cx="46.2" cy="164.1" r="1.80"/><circle cx="49.4" cy="164.2" r="1.80"/><circle cx="52.5" cy="164.8" r="1.80"/><circle cx="55.6" cy="166.1" r="1.80"/><circle cx="58.7" cy="168.3" r="1.80"/><circle cx="61.8" cy="169.8" r="1.80"/><circle cx="64.9" cy="171.3" r="1.80"/><circle cx="68.1" cy="172.9" r="1.80"/><circle cx="71.2" cy="174.3" r="1.80"/><circle cx="74.3" cy="175.4" r="1.80"/></g><g fill="#f07b24"><circle cx="40.0" cy="155.7" r="1.95"/><circle cx="40.0" cy="157.0" r="1.95"/><circle cx="40.0" cy="158.3" r="1.95"/><circle cx="40.0" cy="159.6" r="1.95"/><circle cx="40.0" cy="161.0" r="1.95"/><circle cx="43.1" cy="155.7" r="1.95"/><circle cx="43.1" cy="157.0" r="1.95"/><circle cx="43.1" cy="158.2" r="1.95"/><circle cx="43.1" cy="159.5" r="1.95"/><circle cx="43.1" cy="160.8" r="1.95"/><circle cx="46.2" cy="155.8" r="1.95"/><circle cx="46.2" cy="157.4" r="1.95"/><circle cx="46.2" cy="159.0" r="1.95"/><circle cx="46.2" cy="160.6" r="1.95"/><circle cx="49.4" cy="155.9" r="1.95"/><circle cx="49.4" cy="157.5" r="1.95"/><circle cx="49.4" cy="159.0" r="1.95"/><circle cx="49.4" cy="160.6" r="1.95"/><circle cx="52.5" cy="156.2" r="1.95"/><circle cx="52.5" cy="157.7" r="1.95"/><circle cx="52.5" cy="159.2" r="1.95"/><circle cx="52.5" cy="160.7" r="1.95"/><circle cx="55.6" cy="156.7" r="1.95"/><circle cx="55.6" cy="158.1" r="1.95"/><circle cx="55.6" cy="159.5" r="1.95"/><circle cx="55.6" cy="161.0" r="1.95"/><circle cx="58.7" cy="157.3" r="1.95"/><circle cx="58.7" cy="158.7" r="1.95"/><circle cx="58.7" cy="160.0" r="1.95"/><circle cx="58.7" cy="161.4" r="1.95"/><circle cx="61.8" cy="158.4" r="1.95"/><circle cx="61.8" cy="159.7" r="1.95"/><circle cx="61.8" cy="160.9" r="1.95"/><circle cx="61.8" cy="162.2" r="1.95"/><circle cx="64.9" cy="159.6" r="1.95"/><circle cx="64.9" cy="160.8" r="1.95"/><circle cx="64.9" cy="162.0" r="1.95"/><circle cx="64.9" cy="163.3" r="1.95"/><circle cx="68.1" cy="161.0" r="1.95"/><circle cx="68.1" cy="162.2" r="1.95"/><circle cx="68.1" cy="163.3" r="1.95"/><circle cx="68.1" cy="164.5" r="1.95"/><circle cx="71.2" cy="162.5" r="1.95"/><circle cx="71.2" cy="163.6" r="1.95"/><circle cx="71.2" cy="164.7" r="1.95"/><circle cx="71.2" cy="165.7" r="1.95"/><circle cx="74.3" cy="164.0" r="1.95"/><circle cx="74.3" cy="165.0" r="1.95"/><circle cx="74.3" cy="166.0" r="1.95"/><circle cx="74.3" cy="167.0" r="1.95"/><circle cx="77.4" cy="165.6" r="1.95"/><circle cx="77.4" cy="167.0" r="1.95"/><circle cx="77.4" cy="168.4" r="1.95"/><circle cx="80.5" cy="167.4" r="1.95"/><circle cx="80.5" cy="168.7" r="1.95"/><circle cx="80.5" cy="170.0" r="1.95"/><circle cx="83.6" cy="169.3" r="1.95"/><circle cx="83.6" cy="170.5" r="1.95"/><circle cx="83.6" cy="171.7" r="1.95"/><circle cx="86.8" cy="171.1" r="1.95"/><circle cx="86.8" cy="172.2" r="1.95"/><circle cx="86.8" cy="173.3" r="1.95"/><circle cx="89.9" cy="172.8" r="1.95"/><circle cx="89.9" cy="173.7" r="1.95"/><circle cx="89.9" cy="174.7" r="1.95"/><circle cx="93.0" cy="174.2" r="1.95"/><circle cx="93.0" cy="175.1" r="1.95"/><circle cx="93.0" cy="175.9" r="1.95"/><circle cx="96.1" cy="175.4" r="1.95"/><circle cx="96.1" cy="176.2" r="1.95"/><circle cx="96.1" cy="177.0" r="1.95"/><circle cx="99.2" cy="176.4" r="1.95"/><circle cx="99.2" cy="177.1" r="1.95"/><circle cx="99.2" cy="177.7" r="1.95"/></g><g fill="#f07b24"><circle cx="68.1" cy="176.0" r="1.95"/><circle cx="68.1" cy="176.7" r="1.95"/><circle cx="68.1" cy="177.4" r="1.95"/><circle cx="71.2" cy="175.6" r="1.95"/><circle cx="71.2" cy="176.4" r="1.95"/><circle cx="71.2" cy="177.1" r="1.95"/><circle cx="74.3" cy="175.2" r="1.95"/><circle cx="74.3" cy="176.1" r="1.95"/><circle cx="74.3" cy="176.9" r="1.95"/><circle cx="77.4" cy="174.8" r="1.95"/><circle cx="77.4" cy="175.7" r="1.95"/><circle cx="77.4" cy="176.6" r="1.95"/><circle cx="80.5" cy="174.1" r="1.95"/><circle cx="80.5" cy="175.1" r="1.95"/><circle cx="80.5" cy="176.1" r="1.95"/><circle cx="83.6" cy="173.1" r="1.95"/><circle cx="83.6" cy="174.2" r="1.95"/><circle cx="83.6" cy="175.2" r="1.95"/><circle cx="86.8" cy="172.0" r="1.95"/><circle cx="86.8" cy="173.1" r="1.95"/><circle cx="86.8" cy="174.2" r="1.95"/><circle cx="89.9" cy="170.9" r="1.95"/><circle cx="89.9" cy="172.0" r="1.95"/><circle cx="89.9" cy="173.2" r="1.95"/><circle cx="93.0" cy="169.6" r="1.95"/><circle cx="93.0" cy="170.9" r="1.95"/><circle cx="93.0" cy="172.1" r="1.95"/><circle cx="96.1" cy="168.4" r="1.95"/><circle cx="96.1" cy="169.7" r="1.95"/><circle cx="96.1" cy="171.0" r="1.95"/><circle cx="99.2" cy="167.2" r="1.95"/><circle cx="99.2" cy="168.6" r="1.95"/><circle cx="99.2" cy="170.0" r="1.95"/><circle cx="102.4" cy="166.0" r="1.95"/><circle cx="102.4" cy="167.4" r="1.95"/><circle cx="102.4" cy="168.9" r="1.95"/><circle cx="105.5" cy="164.7" r="1.95"/><circle cx="105.5" cy="165.7" r="1.95"/><circle cx="105.5" cy="166.7" r="1.95"/><circle cx="105.5" cy="167.8" r="1.95"/><circle cx="108.6" cy="163.5" r="1.95"/><circle cx="108.6" cy="164.6" r="1.95"/><circle cx="108.6" cy="165.6" r="1.95"/><circle cx="108.6" cy="166.7" r="1.95"/><circle cx="111.7" cy="162.4" r="1.95"/><circle cx="111.7" cy="163.5" r="1.95"/><circle cx="111.7" cy="164.6" r="1.95"/><circle cx="111.7" cy="165.7" r="1.95"/><circle cx="114.8" cy="161.4" r="1.95"/><circle cx="114.8" cy="162.5" r="1.95"/><circle cx="114.8" cy="163.7" r="1.95"/><circle cx="114.8" cy="164.8" r="1.95"/><circle cx="117.9" cy="160.5" r="1.95"/><circle cx="117.9" cy="161.6" r="1.95"/><circle cx="117.9" cy="162.8" r="1.95"/><circle cx="117.9" cy="164.0" r="1.95"/><circle cx="121.1" cy="159.6" r="1.95"/><circle cx="121.1" cy="160.8" r="1.95"/><circle cx="121.1" cy="162.0" r="1.95"/><circle cx="121.1" cy="163.3" r="1.95"/><circle cx="124.2" cy="158.7" r="1.95"/><circle cx="124.2" cy="160.0" r="1.95"/><circle cx="124.2" cy="161.3" r="1.95"/><circle cx="124.2" cy="162.6" r="1.95"/><circle cx="127.3" cy="158.1" r="1.95"/><circle cx="127.3" cy="159.5" r="1.95"/><circle cx="127.3" cy="160.8" r="1.95"/><circle cx="127.3" cy="162.1" r="1.95"/><circle cx="130.4" cy="157.8" r="1.95"/><circle cx="130.4" cy="159.1" r="1.95"/><circle cx="130.4" cy="160.5" r="1.95"/><circle cx="130.4" cy="161.9" r="1.95"/><circle cx="133.5" cy="157.3" r="1.95"/><circle cx="133.5" cy="158.7" r="1.95"/><circle cx="133.5" cy="160.1" r="1.95"/><circle cx="133.5" cy="161.5" r="1.95"/><circle cx="136.6" cy="156.8" r="1.95"/><circle cx="136.6" cy="158.3" r="1.95"/><circle cx="136.6" cy="159.7" r="1.95"/><circle cx="136.6" cy="161.2" r="1.95"/><circle cx="139.8" cy="156.4" r="1.95"/><circle cx="139.8" cy="157.9" r="1.95"/><circle cx="139.8" cy="159.4" r="1.95"/><circle cx="139.8" cy="160.9" r="1.95"/><circle cx="142.9" cy="156.0" r="1.95"/><circle cx="142.9" cy="157.6" r="1.95"/><circle cx="142.9" cy="159.1" r="1.95"/><circle cx="142.9" cy="160.7" r="1.95"/><circle cx="146.0" cy="155.8" r="1.95"/><circle cx="146.0" cy="157.4" r="1.95"/><circle cx="146.0" cy="159.0" r="1.95"/><circle cx="146.0" cy="160.6" r="1.95"/></g><g fill="#f07b24"><circle cx="40.0" cy="176.3" r="1.90"/><circle cx="43.1" cy="176.3" r="1.90"/><circle cx="46.2" cy="176.4" r="1.90"/><circle cx="49.4" cy="176.4" r="1.90"/><circle cx="52.5" cy="176.4" r="1.90"/><circle cx="55.6" cy="176.5" r="1.90"/><circle cx="58.7" cy="176.6" r="1.90"/><circle cx="61.8" cy="176.6" r="1.90"/><circle cx="64.9" cy="176.7" r="1.90"/><circle cx="68.1" cy="176.8" r="1.90"/><circle cx="71.2" cy="176.8" r="1.90"/><circle cx="74.3" cy="177.0" r="1.90"/></g><g fill="#f07b24"><circle cx="102.4" cy="175.7" r="1.80"/><circle cx="105.5" cy="176.0" r="1.80"/><circle cx="108.6" cy="176.3" r="1.80"/><circle cx="111.7" cy="176.6" r="1.80"/><circle cx="114.8" cy="176.8" r="1.80"/><circle cx="117.9" cy="177.0" r="1.80"/><circle cx="121.1" cy="177.0" r="1.80"/><circle cx="124.2" cy="177.0" r="1.80"/><circle cx="127.3" cy="177.0" r="1.80"/><circle cx="130.4" cy="177.0" r="1.80"/><circle cx="133.5" cy="177.0" r="1.80"/><circle cx="136.6" cy="176.9" r="1.80"/><circle cx="139.8" cy="176.9" r="1.80"/><circle cx="142.9" cy="176.8" r="1.80"/><circle cx="146.0" cy="176.8" r="1.80"/></g><g fill="#f07b24"><circle cx="40.0" cy="175.3" r="1.50"/><circle cx="43.1" cy="175.3" r="1.50"/><circle cx="46.2" cy="175.4" r="1.50"/><circle cx="49.4" cy="175.4" r="1.50"/><circle cx="52.5" cy="175.4" r="1.50"/><circle cx="55.6" cy="175.5" r="1.50"/><circle cx="58.7" cy="175.6" r="1.50"/></g><g fill="#f07b24"><circle cx="114.8" cy="175.6" r="1.50"/><circle cx="117.9" cy="175.7" r="1.50"/><circle cx="121.1" cy="175.7" r="1.50"/><circle cx="124.2" cy="175.7" r="1.50"/><circle cx="127.3" cy="175.6" r="1.50"/><circle cx="130.4" cy="175.6" r="1.50"/><circle cx="133.5" cy="175.5" r="1.50"/><circle cx="136.6" cy="175.5" r="1.50"/><circle cx="139.8" cy="175.4" r="1.50"/><circle cx="142.9" cy="175.3" r="1.50"/><circle cx="146.0" cy="175.3" r="1.50"/></g></g><line x1="40.1" y1="113" x2="146" y2="113" stroke="#707070" stroke-width="1.4" stroke-dasharray="2.9 3.38"/><line x1="100.8" y1="117.2" x2="142.6" y2="91.5" stroke="#f0252a" stroke-width="1.1"/><polygon points="145.8,89.5 140.6,90.6 142.4,93.6" fill="#f0252a"/><rect x="40" y="19.2" width="106" height="187.10000000000002" fill="none" stroke="#8a8a8a" stroke-width="1.3"/><line x1="40" y1="206.3" x2="146" y2="206.3" stroke="#555" stroke-width="1.2"/><line x1="40" y1="66.1" x2="42.6" y2="66.1" stroke="#222" stroke-width="1.1"/><line x1="40" y1="113.0" x2="42.6" y2="113.0" stroke="#222" stroke-width="1.1"/><line x1="40" y1="159.9" x2="42.6" y2="159.9" stroke="#222" stroke-width="1.1"/><g clip-path="url(#cpD)"><polyline points="154.6,25.8 154.6,26.0 154.6,26.2 154.7,26.4 157.9,26.6 158.2,26.8 158.8,27.0 160.0,27.2 161.8,27.4 164.4,27.6 168.1,27.8 172.5,28.0 177.5,28.2 182.2,28.4 185.9,28.6 188.0,28.8 188.0,29.0 185.9,29.2 182.2,29.4 177.5,29.6 172.5,29.8 168.1,30.0 164.4,30.2 161.8,30.4 162.3,30.6 162.8,30.8 163.0,31.0 162.8,31.2 162.3,31.4 161.5,31.6 160.7,31.8 161.4,32.0 163.2,32.2 165.4,32.4 167.5,32.6 169.5,32.8 170.8,33.0 171.3,33.2 170.8,33.4 169.5,33.6 167.5,33.8 165.4,34.0 163.2,34.2 161.4,34.4 160.0,34.6 159.0,34.8 158.7,35.0 159.8,35.2 161.6,35.4 164.4,35.6 168.3,35.8 173.5,36.0 179.5,36.2 185.6,36.4 191.1,36.6 194.9,36.8 196.2,37.0 194.9,37.2 191.1,37.4 185.6,37.6 179.5,37.8 173.5,38.0 168.3,38.2 164.4,38.4 161.6,38.6 159.8,38.8 161.1,39.0 163.2,39.2 165.8,39.4 168.9,39.6 172.1,39.8 174.9,40.0 176.9,40.2 177.6,40.4 176.9,40.6 174.9,40.8 172.1,41.0 168.9,41.2 165.8,41.4 163.2,41.6 163.8,41.8 165.5,42.0 167.1,42.2 168.1,42.4 168.5,42.6 168.1,42.8 167.1,43.0 165.5,43.2 163.8,43.4 162.1,43.6 160.6,43.8 159.5,44.0 158.7,44.2 159.4,44.4 160.4,44.6 161.8,44.8 163.3,45.0 164.9,45.2 166.4,45.4 167.3,45.6 167.7,45.8 167.3,46.0 166.4,46.2 164.9,46.4 163.3,46.6 161.8,46.8 160.4,47.0 159.4,47.2 158.6,47.4 159.0,47.6 159.8,47.8 161.0,48.0 162.5,48.2 164.1,48.4 165.7,48.6 166.9,48.8 167.6,49.0 167.6,49.2 166.9,49.4 165.7,49.6 164.1,49.8 162.5,50.0 161.0,50.2 159.8,50.4 159.4,50.6 160.5,50.8 161.9,51.0 163.5,51.2 165.2,51.4 166.6,51.6 167.6,51.8 168.0,52.0 167.6,52.2 166.6,52.4 165.2,52.6 163.8,52.8 166.8,53.0 170.3,53.2 173.9,53.4 177.0,53.6 179.2,53.8 180.0,54.0 179.2,54.2 177.0,54.4 173.9,54.6 170.3,54.8 166.8,55.0 163.8,55.2 161.5,55.4 162.9,55.6 166.6,55.8 171.9,56.0 178.7,56.2 186.6,56.4 194.9,56.6 202.1,56.8 207.1,57.0 208.9,57.2 207.1,57.4 202.1,57.6 194.9,57.8 186.6,58.0 178.7,58.2 171.9,58.4 166.6,58.6 162.9,58.8 161.6,59.0 163.9,59.2 166.9,59.4 170.5,59.6 174.1,59.8 177.3,60.0 179.5,60.2 180.3,60.4 179.5,60.6 177.3,60.8 174.1,61.0 170.5,61.2 166.9,61.4 163.9,61.6 161.6,61.8 160.3,62.0 162.8,62.2 167.2,62.4 173.9,62.6 183.5,62.8 195.9,63.0 210.4,63.2 225.3,63.4 238.4,63.6 247.5,63.8 250.8,64.0 247.5,64.2 238.4,64.4 225.3,64.6 210.4,64.8 195.9,65.0 183.5,65.2 173.9,65.4 167.8,65.6 169.3,65.8 170.2,66.0 170.2,66.2 169.3,66.4 167.8,66.6 165.8,66.8 163.8,67.0 161.9,67.2 160.4,67.4 161.2,67.6 162.4,67.8 163.5,68.0 164.4,68.2 164.9,68.4 164.9,68.6 164.4,68.8 163.5,69.0 162.4,69.2 161.2,69.4 160.1,69.6 159.2,69.8 158.6,70.0 159.5,70.2 161.0,70.4 163.1,70.6 166.1,70.8 169.7,71.0 173.6,71.2 177.5,71.4 180.5,71.6 182.2,71.8 182.2,72.0 180.5,72.2 177.5,72.4 173.6,72.6 169.7,72.8 166.1,73.0 166.9,73.2 171.8,73.4 177.8,73.6 184.5,73.8 190.9,74.0 196.0,74.2 198.8,74.4 198.8,74.6 196.0,74.8 190.9,75.0 184.5,75.2 177.8,75.4 171.8,75.6 166.9,75.8 163.2,76.0 161.8,76.2 163.0,76.4 164.0,76.6 164.7,76.8 165.0,77.0 164.7,77.2 164.0,77.4 163.0,77.6 161.8,77.8 160.6,78.0 159.7,78.2 159.1,78.4 160.5,78.6 162.7,78.8 165.9,79.0 170.4,79.2 175.8,79.4 181.8,79.6 187.5,79.8 192.1,80.0 194.7,80.2 194.7,80.4 192.1,80.6 187.5,80.8 181.8,81.0 175.8,81.2 170.4,81.4 165.9,81.6 162.7,81.8 160.5,82.0 161.0,82.2 162.6,82.4 164.5,82.6 166.5,82.8 168.2,83.0 169.4,83.2 169.8,83.4 169.4,83.6 168.2,83.8 166.5,84.0 166.1,84.2 170.7,84.4 176.3,84.6 182.4,84.8 188.3,85.0 193.0,85.2 195.7,85.4 195.7,85.6 193.0,85.8 188.3,86.0 182.4,86.2 176.3,86.4 170.7,86.6 166.1,86.8 162.8,87.0 161.9,87.2 163.5,87.4 165.2,87.6 166.6,87.8 167.6,88.0 168.0,88.2 167.6,88.4 166.6,88.6 165.2,88.8 163.5,89.0 161.9,89.2 160.5,89.4 159.4,89.6 158.7,89.8 158.2,90.0 157.9,90.2 157.7,90.4 157.9,90.6 158.3,90.8 158.9,91.0 160.0,91.2 161.8,91.4 164.2,91.6 167.3,91.8 171.0,92.0 174.8,92.2 178.2,92.4 180.5,92.6 181.3,92.8 180.5,93.0 178.2,93.2 174.8,93.4 171.0,93.6 167.3,93.8 164.2,94.0 161.8,94.2 160.0,94.4 158.9,94.6 158.3,94.8 158.4,95.0 159.0,95.2 159.8,95.4 161.0,95.6 162.5,95.8 164.1,96.0 165.7,96.2 166.9,96.4 167.6,96.6 167.6,96.8 166.9,97.0 165.7,97.2 164.1,97.4 162.5,97.6 161.0,97.8 159.8,98.0 159.0,98.2 158.4,98.4 158.0,98.6 157.8,98.8 157.8,99.0 158.0,99.2 158.2,99.4 158.5,99.6 158.9,99.8 159.3,100.0 159.8,100.2 160.1,100.4 160.3,100.6 160.3,100.8 160.1,101.0 159.6,101.2 158.9,101.4 158.3,101.6 157.7,101.8 157.2,102.0 156.8,102.2 156.4,102.4 156.1,102.6 155.9,102.8 155.6,103.0 155.4,103.2 155.2,103.4 155.0,103.6 154.8,103.8 154.6,104.0 154.6,104.2 154.6,104.4 154.6,104.6 154.6,104.8 154.6,105.0 154.6,105.2 154.6,105.4 154.6,105.6 154.6,105.8 154.6,106.0 154.6,106.2 154.6,106.4 154.6,106.6 154.6,106.8 154.6,107.0 154.6,107.2 154.6,107.4 154.6,107.6 154.6,107.8 154.6,108.0 154.6,108.2 154.6,108.4 154.6,108.6 154.6,108.8 154.6,109.0 154.6,109.2 154.6,109.4 154.6,109.6 154.6,109.8 154.6,110.0 154.6,110.2 154.6,110.4 154.6,110.6 154.6,110.8 154.6,111.0 154.6,111.2 154.6,111.4 154.6,111.6 154.6,111.8 154.6,112.0 154.8,112.2 155.0,112.4 155.2,112.6 155.4,112.8 155.6,113.0 155.8,113.2 156.0,113.4 156.2,113.6 156.5,113.8 156.7,114.0 157.0,114.2 157.4,114.4 157.9,114.6 158.4,114.8 159.0,115.0 159.3,115.2 159.7,115.4 159.9,115.6 160.0,115.8 159.9,116.0 160.4,116.2 161.8,116.4 163.3,116.6 164.9,116.8 166.4,117.0 167.3,117.2 167.7,117.4 167.3,117.6 166.4,117.8 164.9,118.0 163.3,118.2 161.8,118.4 160.4,118.6 159.4,118.8 158.6,119.0 159.5,119.2 160.8,119.4 162.7,119.6 165.2,119.8 168.0,120.0 171.0,120.2 173.6,120.4 175.4,120.6 176.0,120.8 175.4,121.0 173.6,121.2 171.0,121.4 168.0,121.6 165.2,121.8 162.7,122.0 160.8,122.2 159.5,122.4 159.7,122.6 159.9,122.8 160.0,123.0 159.9,123.2 159.7,123.4 159.3,123.6 159.7,123.8 160.6,124.0 161.8,124.2 163.0,124.4 164.0,124.6 164.7,124.8 165.0,125.0 164.7,125.2 164.0,125.4 163.0,125.6 161.8,125.8 160.6,126.0 159.7,126.2 158.9,126.4 158.4,126.6 159.0,126.8 160.3,127.0 162.1,127.2 164.8,127.4 168.2,127.6 172.2,127.8 176.3,128.0 180.0,128.2 182.5,128.4 183.4,128.6 182.5,128.8 180.0,129.0 176.3,129.2 172.2,129.4 168.2,129.6 164.8,129.8 162.1,130.0 161.0,130.2 163.2,130.4 166.2,130.6 169.9,130.8 174.0,131.0 177.9,131.2 181.0,131.4 182.7,131.6 182.7,131.8 181.0,132.0 177.9,132.2 174.0,132.4 169.9,132.6 166.2,132.8 163.5,133.0 165.8,133.2 168.1,133.4 170.1,133.6 171.5,133.8 172.0,134.0 171.5,134.2 170.1,134.4 168.1,134.6 165.8,134.8 163.5,135.0 165.7,135.2 169.1,135.4 172.9,135.6 176.6,135.8 179.5,136.0 181.1,136.2 181.1,136.4 179.5,136.6 176.6,136.8 172.9,137.0 169.1,137.2 165.7,137.4 162.9,137.6 162.4,137.8 165.5,138.0 169.7,138.2 174.8,138.4 180.5,138.6 185.9,138.8 190.3,139.0 192.7,139.2 192.7,139.4 190.3,139.6 185.9,139.8 180.5,140.0 174.8,140.2 169.7,140.4 170.3,140.6 177.1,140.8 185.4,141.0 194.6,141.2 203.4,141.4 210.4,141.6 214.3,141.8 214.3,142.0 210.4,142.2 203.4,142.4 194.6,142.6 199.3,142.8 207.4,143.0 213.0,143.2 215.0,143.4 213.0,143.6 207.4,143.8 199.3,144.0 190.1,144.2 181.2,144.4 173.6,144.6 173.1,144.8 182.2,145.0 194.0,145.2 207.7,145.4 221.9,145.6 234.4,145.8 243.0,146.0 246.1,146.2 243.0,146.4 234.4,146.6 221.9,146.8 207.7,147.0 194.0,147.2 194.7,147.4 205.2,147.6 214.4,147.8 220.8,148.0 223.1,148.2 220.8,148.4 214.4,148.6 205.2,148.8 194.7,149.0 184.5,149.2 175.8,149.4 172.0,149.6 179.7,149.8 189.1,150.0 199.5,150.2 209.5,150.4 217.4,150.6 221.8,150.8 221.8,151.0 217.4,151.2 209.5,151.4 199.5,151.6 189.1,151.8 195.7,152.0 203.1,152.2 208.2,152.4 210.0,152.6 208.2,152.8 203.1,153.0 195.7,153.2 187.3,153.4 179.1,153.6 185.4,153.8 198.7,154.0 214.2,154.2 230.2,154.4 244.3,154.6 254.1,154.8 257.6,155.0 254.1,155.2 244.3,155.4 230.2,155.6 214.2,155.8 198.7,156.0 185.4,156.2 175.1,156.4 181.2,156.6 190.1,156.8 199.3,157.0 207.4,157.2 213.0,157.4 215.0,157.6 213.0,157.8 207.4,158.0 199.3,158.2 190.1,158.4 181.2,158.6 173.6,158.8 175.4,159.0 185.8,159.2 199.3,159.4 215.0,159.6 231.2,159.8 245.6,160.0 255.5,160.2 259.0,160.4 255.5,160.6 245.6,160.8 231.2,161.0 215.0,161.2 199.3,161.4 185.8,161.6 179.6,161.8 189.0,162.0 199.4,162.2 209.3,162.4 217.2,162.6 221.6,162.8 221.6,163.0 217.2,163.2 209.3,163.4 199.4,163.6 189.0,163.8 179.6,164.0 172.0,164.2 166.3,164.4 162.5,164.6 160.2,164.8 161.1,165.0 163.9,165.2 168.4,165.4 174.8,165.6 183.0,165.8 192.5,166.0 202.4,166.2 211.1,166.4 217.1,166.6 219.3,166.8 217.1,167.0 211.1,167.2 202.4,167.4 192.5,167.6 183.0,167.8 185.0,168.0 191.6,168.2 196.7,168.4 199.6,168.6 199.6,168.8 196.7,169.0 191.6,169.2 185.0,169.4 180.4,169.6 187.9,169.8 195.1,170.0 200.8,170.2 204.0,170.4 204.0,170.6 200.8,170.8 195.1,171.0 187.9,171.2 180.4,171.4 173.6,171.6 168.0,171.8 163.9,172.0 165.9,172.2 170.4,172.4 175.8,172.6 181.8,172.8 187.5,173.0 192.1,173.2 194.7,173.4 194.7,173.6 192.1,173.8 187.5,174.0 181.8,174.2 175.8,174.4 170.4,174.6 165.9,174.8 166.1,175.0 170.2,175.2 174.9,175.4 179.8,175.6 184.1,175.8 187.1,176.0 188.2,176.2 187.1,176.4 184.1,176.6 179.8,176.8 174.9,177.0 170.2,177.2 166.1,177.4 163.8,177.6 168.1,177.8 174.3,178.0 182.2,178.2 191.5,178.4 201.1,178.6 209.6,178.8 215.4,179.0 217.5,179.2 215.4,179.4 209.6,179.6 201.1,179.8 191.5,180.0 182.2,180.2 174.3,180.4 168.1,180.6 163.8,180.8 161.0,181.0 159.3,181.2 158.7,181.4 159.8,181.6 161.8,181.8 165.1,182.0 169.9,182.2 176.5,182.4 184.6,182.6 193.4,182.8 202.0,183.0 208.7,183.2 212.5,183.4 212.5,183.6 208.7,183.8 202.0,184.0 193.4,184.2 184.6,184.4 176.5,184.6 175.3,184.8 179.5,185.0 182.9,185.2 184.8,185.4 184.8,185.6 182.9,185.8 179.5,186.0 175.3,186.2 170.9,186.4 169.3,186.6 173.7,186.8 178.2,187.0 182.2,187.2 185.0,187.4 186.0,187.6 185.0,187.8 182.2,188.0 178.2,188.2 173.7,188.4 169.3,188.6 165.5,188.8 168.9,189.0 173.7,189.2 179.0,189.4 184.1,189.6 188.2,189.8 190.4,190.0 190.4,190.2 188.2,190.4 184.1,190.6 179.0,190.8 173.7,191.0 168.9,191.2 170.3,191.4 173.9,191.6 177.0,191.8 179.2,192.0 180.0,192.2 179.2,192.4 177.0,192.6 173.9,192.8 173.1,193.0 180.6,193.2 189.2,193.4 198.2,193.6 206.1,193.8 211.5,194.0 213.5,194.2 211.5,194.4 206.1,194.6 198.2,194.8 189.2,195.0 180.6,195.2 173.1,195.4 173.4,195.6 178.6,195.8 183.5,196.0 187.5,196.2 189.7,196.4 189.7,196.6 187.5,196.8 183.5,197.0 178.6,197.2 173.4,197.4 169.0,197.6 175.8,197.8 184.4,198.0 194.6,198.2 205.0,198.4 214.2,198.6 220.6,198.8 222.9,199.0 220.6,199.2 214.2,199.4 205.0,199.6 194.6,199.8 184.4,200.0 175.8,200.2 169.0,200.4 166.1,200.6 168.9,200.8 171.5,201.0 173.7,201.2 174.8,201.4 174.8,201.6 173.7,201.8 171.5,202.0 168.9,202.2 166.1,202.4 163.5,202.6 164.3,202.8 165.9,203.0 167.2,203.2 167.9,203.4 167.9,203.6 167.2,203.8 165.9,204.0 164.3,204.2 162.7,204.4 161.1,204.6 161.9,204.8 159.6,205.0 160.0,205.2 160.0,205.4 159.6,205.6 158.9,205.8" fill="none" stroke="#555" stroke-width="0.75" stroke-linejoin="round"/><polyline points="154.6,25.8 154.6,26.0 154.7,26.2 154.8,26.4 155.2,26.6 155.4,26.8 155.7,27.0 156.1,27.2 156.5,27.4 156.8,27.6 157.1,27.8 157.3,28.0 157.3,28.2 157.1,28.4 156.8,28.6 156.5,28.8 156.1,29.0 155.7,29.2 155.4,29.4 155.4,29.6 155.6,29.8 155.8,30.0 155.9,30.2 156.0,30.4 156.0,30.6 155.9,30.8 155.8,31.0 155.6,31.2 155.4,31.4 155.3,31.6 155.1,31.8 155.1,32.0 155.3,32.2 155.5,32.4 155.7,32.6 156.0,32.8 156.3,33.0 156.5,33.2 156.6,33.4 156.6,33.6 156.5,33.8 156.3,34.0 156.0,34.2 155.7,34.4 155.5,34.6 155.3,34.8 155.4,35.0 155.5,35.2 155.7,35.4 155.9,35.6 156.0,35.8 156.0,36.0 156.0,36.2 155.9,36.4 155.7,36.6 155.5,36.8 155.4,37.0 155.2,37.2 155.1,37.4 155.0,37.6 155.0,37.8 154.9,38.0 154.9,38.2 155.0,38.4 155.0,38.6 155.2,38.8 155.4,39.0 155.7,39.2 156.1,39.4 156.7,39.6 157.2,39.8 157.8,40.0 158.2,40.2 158.5,40.4 158.5,40.6 158.2,40.8 157.8,41.0 157.2,41.2 156.7,41.4 156.1,41.6 155.7,41.8 155.4,42.0 155.2,42.2 155.1,42.4 155.3,42.6 155.5,42.8 155.8,43.0 156.1,43.2 156.4,43.4 156.7,43.6 156.9,43.8 157.0,44.0 156.9,44.2 156.7,44.4 156.4,44.6 156.1,44.8 155.8,45.0 155.5,45.2 155.3,45.4 155.5,45.6 155.9,45.8 156.4,46.0 156.9,46.2 157.5,46.4 158.0,46.6 158.4,46.8 158.5,47.0 158.4,47.2 158.0,47.4 157.5,47.6 156.9,47.8 156.4,48.0 155.9,48.2 155.5,48.4 155.3,48.6 155.5,48.8 155.8,49.0 156.1,49.2 156.4,49.4 156.7,49.6 156.9,49.8 157.0,50.0 156.9,50.2 156.7,50.4 156.4,50.6 156.1,50.8 155.8,51.0 155.5,51.2 155.3,51.4 155.5,51.6 155.9,51.8 156.4,52.0 156.9,52.2 157.5,52.4 158.0,52.6 158.4,52.8 158.5,53.0 158.4,53.2 158.0,53.4 157.5,53.6 156.9,53.8 156.4,54.0 155.9,54.2 155.5,54.4 155.3,54.6 155.5,54.8 155.8,55.0 156.1,55.2 156.4,55.4 156.7,55.6 156.9,55.8 157.0,56.0 156.9,56.2 156.7,56.4 156.4,56.6 156.1,56.8 155.8,57.0 155.5,57.2 155.3,57.4 155.6,57.6 156.0,57.8 156.6,58.0 157.2,58.2 157.9,58.4 158.5,58.6 158.9,58.8 159.0,59.0 158.9,59.2 158.5,59.4 157.9,59.6 157.2,59.8 156.6,60.0 156.0,60.2 155.6,60.4 155.4,60.6 155.8,60.8 156.2,61.0 156.7,61.2 157.2,61.4 157.6,61.6 157.9,61.8 158.0,62.0 157.9,62.2 157.6,62.4 157.2,62.6 156.7,62.8 156.2,63.0 155.8,63.2 155.4,63.4 155.5,63.6 155.9,63.8 156.4,64.0 156.9,64.2 157.5,64.4 158.0,64.6 158.4,64.8 158.5,65.0 158.4,65.2 158.0,65.4 157.5,65.6 156.9,65.8 156.4,66.0 155.9,66.2 155.5,66.4 155.9,66.6 156.6,66.8 157.6,67.0 158.8,67.2 160.3,67.4 161.9,67.6 163.2,67.8 164.2,68.0 164.5,68.2 164.2,68.4 163.2,68.6 161.9,68.8 160.3,69.0 158.8,69.2 157.6,69.4 156.6,69.6 155.9,69.8 155.8,70.0 156.6,70.2 157.9,70.4 159.8,70.6 162.5,70.8 165.7,71.0 169.3,71.2 172.7,71.4 175.4,71.6 176.9,71.8 176.9,72.0 175.4,72.2 172.7,72.4 169.3,72.6 165.7,72.8 162.5,73.0 159.8,73.2 157.9,73.4 156.8,73.6 158.0,73.8 159.5,74.0 161.2,74.2 163.0,74.4 164.5,74.6 165.6,74.8 166.0,75.0 165.6,75.2 164.5,75.4 163.0,75.6 161.2,75.8 159.5,76.0 158.0,76.2 156.8,76.4 156.0,76.6 155.5,76.8 155.2,77.0 155.1,77.2 155.0,77.4 154.9,77.6 155.0,77.8 155.1,78.0 155.4,78.2 155.9,78.4 156.8,78.6 158.2,78.8 160.3,79.0 163.2,79.2 166.7,79.4 170.6,79.6 174.4,79.8 177.3,80.0 179.0,80.2 179.0,80.4 177.3,80.6 174.4,80.8 170.6,81.0 166.7,81.2 163.2,81.4 160.3,81.6 158.2,81.8 156.8,82.0 157.7,82.2 159.1,82.4 160.6,82.6 162.2,82.8 163.7,83.0 164.6,83.2 165.0,83.4 164.6,83.6 163.7,83.8 162.2,84.0 160.6,84.2 163.2,84.4 166.7,84.6 170.6,84.8 174.4,85.0 177.3,85.2 179.0,85.4 179.0,85.6 177.3,85.8 174.4,86.0 170.6,86.2 166.7,86.4 163.2,86.6 160.3,86.8 159.1,87.0 161.1,87.2 163.4,87.4 165.9,87.6 168.0,87.8 169.5,88.0 170.0,88.2 169.5,88.4 168.0,88.6 165.9,88.8 163.4,89.0 161.1,89.2 159.1,89.4 157.5,89.6 156.5,89.8 155.7,90.0 155.3,90.2 155.1,90.4 155.1,90.6 155.4,90.8 155.8,91.0 156.5,91.2 157.7,91.4 159.3,91.6 161.4,91.8 163.9,92.0 166.4,92.2 168.7,92.4 170.2,92.6 170.8,92.8 170.2,93.0 168.7,93.2 166.4,93.4 163.9,93.6 161.4,93.8 159.3,94.0 157.7,94.2 156.5,94.4 155.8,94.6 155.4,94.8 155.6,95.0 156.2,95.2 157.0,95.4 158.2,95.6 159.6,95.8 161.1,96.0 162.6,96.2 163.8,96.4 164.4,96.6 164.4,96.8 163.8,97.0 162.6,97.2 161.1,97.4 159.6,97.6 158.2,97.8 157.0,98.0 156.2,98.2 155.6,98.4 155.3,98.6 155.1,98.8 155.1,99.0 155.3,99.2 155.6,99.4 156.0,99.6 156.4,99.8 156.9,100.0 157.4,100.2 157.8,100.4 158.0,100.6 158.0,100.8 157.8,101.0 157.4,101.2 156.9,101.4 156.3,101.6 155.9,101.8 155.5,102.0 155.2,102.2 155.0,102.4 154.9,102.6 154.8,102.8 154.7,103.0 154.7,103.2 154.7,103.4 154.6,103.6 154.6,103.8 154.6,104.0 154.6,104.2 154.6,104.4 154.6,104.6 154.6,104.8 154.6,105.0 154.6,105.2 154.6,105.4 154.6,105.6 154.6,105.8 154.6,106.0 154.6,106.2 154.6,106.4 154.6,106.6 154.6,106.8 154.6,107.0 154.6,107.2 154.6,107.4 154.6,107.6 154.6,107.8 154.6,108.0 154.6,108.2 154.6,108.4 154.6,108.6 154.6,108.8 154.6,109.0 154.6,109.2 154.6,109.4 154.6,109.6 154.6,109.8 154.6,110.0 154.6,110.2 154.6,110.4 154.6,110.6 154.6,110.8 154.6,111.0 154.6,111.2 154.6,111.4 154.6,111.6 154.6,111.8 154.6,112.0 154.7,112.2 154.7,112.4 154.8,112.6 154.8,112.8 154.9,113.0 154.9,113.2 155.0,113.4 155.1,113.6 155.1,113.8 155.2,114.0 155.3,114.2 155.4,114.4 155.6,114.6 155.7,114.8 155.9,115.0 156.0,115.2 156.0,115.4 156.0,115.6 156.0,115.8 155.9,116.0 155.8,116.2 155.7,116.4 155.7,116.6 155.8,116.8 156.1,117.0 156.3,117.2 156.6,117.4 156.8,117.6 156.9,117.8 157.0,118.0 156.9,118.2 156.8,118.4 156.6,118.6 156.3,118.8 156.1,119.0 155.8,119.2 155.7,119.4 155.6,119.6 155.7,119.8 155.9,120.0 156.0,120.2 156.2,120.4 156.4,120.6 156.5,120.8 156.5,121.0 156.5,121.2 156.4,121.4 156.2,121.6 156.0,121.8 155.9,122.0 155.7,122.2 155.6,122.4 155.5,122.6 155.6,122.8 155.6,123.0 155.7,123.2 155.8,123.4 155.9,123.6 156.0,123.8 156.0,124.0 156.0,124.2 155.9,124.4 155.8,124.6 155.7,124.8 155.6,125.0 155.6,125.2 155.5,125.4 155.6,125.6 155.7,125.8 155.9,126.0 156.0,126.2 156.2,126.4 156.4,126.6 156.5,126.8 156.5,127.0 156.5,127.2 156.4,127.4 156.2,127.6 156.0,127.8 155.9,128.0 155.7,128.2 155.6,128.4 155.5,128.6 155.6,128.8 155.6,129.0 155.7,129.2 155.8,129.4 155.9,129.6 156.0,129.8 156.0,130.0 156.0,130.2 155.9,130.4 155.8,130.6 155.7,130.8 155.6,131.0 155.6,131.2 155.6,131.4 155.7,131.6 155.8,131.8 156.1,132.0 156.3,132.2 156.6,132.4 156.8,132.6 156.9,132.8 157.0,133.0 156.9,133.2 156.8,133.4 156.6,133.6 156.3,133.8 156.1,134.0 155.8,134.2 155.7,134.4 155.6,134.6 155.7,134.8 155.9,135.0 156.0,135.2 156.2,135.4 156.4,135.6 156.5,135.8 156.5,136.0 156.5,136.2 156.4,136.4 156.2,136.6 156.0,136.8 155.9,137.0 155.7,137.2 155.6,137.4 155.7,137.6 155.8,137.8 156.1,138.0 156.3,138.2 156.6,138.4 156.8,138.6 156.9,138.8 157.0,139.0 156.9,139.2 156.8,139.4 156.6,139.6 156.3,139.8 156.1,140.0 155.8,140.2 155.9,140.4 156.2,140.6 156.7,140.8 157.3,141.0 158.0,141.2 158.7,141.4 159.4,141.6 159.8,141.8 160.0,142.0 159.8,142.2 159.4,142.4 158.7,142.6 158.0,142.8 157.3,143.0 156.7,143.2 156.3,143.4 157.1,143.6 158.3,143.8 160.1,144.0 162.3,144.2 164.9,144.4 167.6,144.6 170.0,144.8 171.6,145.0 172.2,145.2 171.6,145.4 170.0,145.6 167.6,145.8 164.9,146.0 165.9,146.2 168.9,146.4 171.5,146.6 173.4,146.8 174.0,147.0 173.4,147.2 171.5,147.4 168.9,147.6 165.9,147.8 163.0,148.0 160.8,148.2 162.4,148.4 163.7,148.6 164.7,148.8 165.0,149.0 164.7,149.2 163.7,149.4 162.4,149.6 160.8,149.8 159.3,150.0 158.2,150.2 159.7,150.4 161.5,150.6 163.6,150.8 165.5,151.0 167.0,151.2 167.9,151.4 167.9,151.6 167.0,151.8 165.5,152.0 163.6,152.2 161.5,152.4 159.7,152.6 160.3,152.8 161.5,153.0 162.4,153.2 162.9,153.4 162.9,153.6 162.4,153.8 164.4,154.0 169.2,154.2 175.2,154.4 181.7,154.6 187.9,154.8 192.9,155.0 195.6,155.2 195.6,155.4 192.9,155.6 187.9,155.8 181.7,156.0 175.2,156.2 169.2,156.4 164.4,156.6 163.6,156.8 165.5,157.0 167.0,157.2 167.9,157.4 167.9,157.6 167.0,157.8 165.5,158.0 163.6,158.2 161.5,158.4 159.7,158.6 158.2,158.8 159.9,159.0 163.1,159.2 167.7,159.4 173.5,159.6 180.4,159.8 187.4,160.0 193.7,160.2 198.0,160.4 199.5,160.6 198.0,160.8 193.7,161.0 187.4,161.2 180.4,161.4 173.5,161.6 167.7,161.8 163.1,162.0 159.9,162.2 162.1,162.4 164.9,162.6 168.1,162.8 171.1,163.0 173.5,163.2 174.8,163.4 174.8,163.6 173.5,163.8 171.1,164.0 168.1,164.2 164.9,164.4 162.1,164.6 160.0,164.8 162.2,165.0 164.8,165.2 167.5,165.4 169.8,165.6 171.4,165.8 172.0,166.0 171.4,166.2 169.8,166.4 167.5,166.6 164.8,166.8 162.2,167.0 160.0,167.2 158.3,167.4 159.2,167.6 161.4,167.8 164.3,168.0 167.6,168.2 171.1,168.4 174.1,168.6 176.2,168.8 177.0,169.0 176.2,169.2 174.1,169.4 171.1,169.6 167.6,169.8 164.3,170.0 161.4,170.2 159.7,170.4 161.5,170.6 163.6,170.8 165.5,171.0 167.0,171.2 167.9,171.4 167.9,171.6 167.0,171.8 165.5,172.0 163.6,172.2 161.5,172.4 159.7,172.6 160.0,172.8 162.2,173.0 164.8,173.2 167.5,173.4 169.8,173.6 171.4,173.8 172.0,174.0 171.4,174.2 169.8,174.4 167.5,174.6 164.8,174.8 162.2,175.0 160.0,175.2 159.0,175.4 160.6,175.6 162.3,175.8 163.9,176.0 165.2,176.2 165.9,176.4 165.9,176.6 165.2,176.8 163.9,177.0 162.3,177.2 160.6,177.4 159.0,177.6 159.5,177.8 161.4,178.0 163.7,178.2 166.0,178.4 168.1,178.6 169.5,178.8 170.0,179.0 169.5,179.2 168.1,179.4 166.0,179.6 163.7,179.8 161.4,180.0 159.5,180.2 158.0,180.4 157.1,180.6 158.1,180.8 159.3,181.0 160.8,181.2 162.4,181.4 163.7,181.6 164.7,181.8 165.0,182.0 164.7,182.2 163.7,182.4 162.4,182.6 160.8,182.8 159.3,183.0 159.1,183.2 161.1,183.4 163.5,183.6 166.1,183.8 168.7,184.0 170.7,184.2 171.9,184.4 171.9,184.6 170.7,184.8 168.7,185.0 166.1,185.2 163.5,185.4 161.1,185.6 159.1,185.8 157.6,186.0 158.7,186.2 160.4,186.4 162.6,186.6 165.0,186.8 167.3,187.0 169.1,187.2 170.1,187.4 170.1,187.6 169.1,187.8 167.3,188.0 165.0,188.2 162.6,188.4 160.4,188.6 160.8,188.8 163.5,189.0 166.5,189.2 169.6,189.4 172.4,189.6 174.3,189.8 175.0,190.0 174.3,190.2 172.4,190.4 169.6,190.6 166.5,190.8 163.5,191.0 160.8,191.2 162.5,191.4 164.5,191.6 166.3,191.8 167.6,192.0 168.0,192.2 167.6,192.4 166.3,192.6 164.5,192.8 162.5,193.0 160.6,193.2 159.6,193.4 162.3,193.6 166.0,193.8 170.5,194.0 175.5,194.2 180.2,194.4 184.0,194.6 186.1,194.8 186.1,195.0 184.0,195.2 180.2,195.4 175.5,195.6 170.5,195.8 166.0,196.0 163.7,196.2 166.0,196.4 168.1,196.6 169.5,196.8 170.0,197.0 169.5,197.2 168.1,197.4 166.0,197.6 164.4,197.8 169.2,198.0 175.1,198.2 181.6,198.4 187.8,198.6 192.8,198.8 195.5,199.0 195.5,199.2 192.8,199.4 187.8,199.6 181.6,199.8 175.1,200.0 169.2,200.2 164.4,200.4 162.3,200.6 163.9,200.8 165.2,201.0 165.9,201.2 165.9,201.4 165.2,201.6 163.9,201.8 162.3,202.0 160.6,202.2 159.0,202.4 159.0,202.6 159.9,202.8 160.6,203.0 161.0,203.2 161.0,203.4 160.6,203.6 159.9,203.8 159.0,204.0 158.1,204.2 157.3,204.4 156.8,204.6 156.9,204.8 156.2,205.0 156.1,205.2 156.0,205.4 155.8,205.6 155.5,205.8" fill="none" stroke="#f08a3a" stroke-width="0.85" stroke-linejoin="round"/><polyline points="154.6,25.8 154.6,26.0 154.7,26.2 154.8,26.4 156.0,26.6 156.3,26.8 156.9,27.0 157.9,27.2 159.2,27.4 160.9,27.6 163.0,27.8 165.0,28.0 166.9,28.2 168.1,28.4 168.6,28.6 168.1,28.8 166.9,29.0 165.0,29.2 163.0,29.4 160.9,29.6 159.2,29.8 157.9,30.0 157.0,30.2 157.3,30.4 157.7,30.6 157.9,30.8 158.0,31.0 157.9,31.2 157.7,31.4 157.3,31.6 157.0,31.8 157.4,32.0 158.3,32.2 159.3,32.4 160.4,32.6 161.3,32.8 162.0,33.0 162.2,33.2 162.0,33.4 161.3,33.6 160.4,33.8 159.3,34.0 158.3,34.2 157.4,34.4 156.8,34.6 157.0,34.8 158.0,35.0 159.5,35.2 161.3,35.4 163.5,35.6 165.7,35.8 167.7,36.0 169.0,36.2 169.5,36.4 169.0,36.6 167.7,36.8 165.7,37.0 163.5,37.2 161.3,37.4 159.5,37.6 158.0,37.8 157.0,38.0 157.3,38.2 158.0,38.4 158.8,38.6 159.5,38.8 160.1,39.0 160.5,39.2 160.5,39.4 160.1,39.6 159.5,39.8 158.8,40.0 158.0,40.2 157.3,40.4 156.7,40.6 156.3,40.8 156.3,41.0 156.8,41.2 157.4,41.4 158.2,41.6 159.1,41.8 159.9,42.0 160.6,42.2 161.0,42.4 161.0,42.6 160.6,42.8 159.9,43.0 159.1,43.2 158.2,43.4 157.4,43.6 156.8,43.8 156.3,44.0 156.6,44.2 157.2,44.4 157.9,44.6 158.6,44.8 159.4,45.0 159.9,45.2 160.3,45.4 160.3,45.6 159.9,45.8 159.4,46.0 158.6,46.2 157.9,46.4 157.2,46.6 156.6,46.8 156.6,47.0 157.0,47.2 157.3,47.4 157.7,47.6 157.9,47.8 158.0,48.0 157.9,48.2 157.7,48.4 157.3,48.6 157.0,48.8 156.6,49.0 157.0,49.2 157.8,49.4 158.7,49.6 159.7,49.8 160.7,50.0 161.5,50.2 161.9,50.4 161.9,50.6 161.5,50.8 160.7,51.0 159.7,51.2 158.7,51.4 157.8,51.6 157.0,51.8 156.9,52.0 157.9,52.2 159.5,52.4 161.8,52.6 164.8,52.8 168.3,53.0 171.9,53.2 175.0,53.4 177.2,53.6 178.0,53.8 177.2,54.0 175.0,54.2 171.9,54.4 168.3,54.6 164.8,54.8 161.8,55.0 160.4,55.2 161.7,55.4 162.9,55.6 163.7,55.8 164.0,56.0 163.7,56.2 162.9,56.4 161.7,56.6 160.4,56.8 159.1,57.0 157.9,57.2 157.2,57.4 157.9,57.6 158.6,57.8 159.4,58.0 159.9,58.2 160.3,58.4 160.3,58.6 159.9,58.8 159.4,59.0 158.6,59.2 157.9,59.4 157.4,59.6 158.5,59.8 159.9,60.0 161.5,60.2 163.2,60.4 164.6,60.6 165.6,60.8 166.0,61.0 165.6,61.2 164.6,61.4 163.2,61.6 161.5,61.8 159.9,62.0 160.8,62.2 164.4,62.4 169.6,62.6 176.3,62.8 184.1,63.0 192.2,63.2 199.3,63.4 204.2,63.6 206.0,63.8 204.2,64.0 199.3,64.2 192.2,64.4 184.1,64.6 176.3,64.8 169.6,65.0 164.4,65.2 160.8,65.4 158.4,65.6 157.0,65.8 157.4,66.0 158.1,66.2 158.8,66.4 159.4,66.6 159.8,66.8 160.0,67.0 159.8,67.2 159.4,67.4 158.8,67.6 158.1,67.8 157.4,68.0 156.8,68.2 156.4,68.4 156.1,68.6 156.3,68.8 156.6,69.0 157.0,69.2 157.3,69.4 157.7,69.6 157.9,69.8 158.0,70.0 157.9,70.2 157.7,70.4 157.3,70.6 157.0,70.8 156.6,71.0 156.6,71.2 157.1,71.4 157.7,71.6 158.4,71.8 159.1,72.0 159.7,72.2 160.0,72.4 160.0,72.6 159.7,72.8 159.1,73.0 158.4,73.2 157.7,73.4 157.4,73.6 158.4,73.8 159.7,74.0 161.3,74.2 162.9,74.4 164.3,74.6 165.3,74.8 165.6,75.0 165.3,75.2 164.3,75.4 162.9,75.6 161.3,75.8 159.7,76.0 158.4,76.2 157.4,76.4 156.6,76.6 156.3,76.8 156.6,77.0 157.0,77.2 157.3,77.4 157.7,77.6 157.9,77.8 158.0,78.0 157.9,78.2 157.7,78.4 157.3,78.6 157.0,78.8 156.6,79.0 156.3,79.2 156.4,79.4 156.8,79.6 157.2,79.8 157.5,80.0 157.8,80.2 158.0,80.4 158.0,80.6 157.8,80.8 157.5,81.0 157.2,81.2 156.8,81.4 156.4,81.6 156.1,81.8 155.9,82.0 155.8,82.2 155.7,82.4 155.8,82.6 156.0,82.8 156.2,83.0 156.4,83.2 156.6,83.4 156.8,83.6 157.0,83.8 157.0,84.0 157.0,84.2 156.8,84.4 156.6,84.6 156.4,84.8 156.2,85.0 156.0,85.2 155.8,85.4 155.7,85.6 155.7,85.8 155.6,86.0 155.7,86.2 155.7,86.4 155.8,86.6 155.9,86.8 156.0,87.0 156.1,87.2 156.3,87.4 156.4,87.6 156.5,87.8 156.5,88.0 156.5,88.2 156.4,88.4 156.3,88.6 156.1,88.8 156.0,89.0 155.9,89.2 155.8,89.4 155.7,89.6 155.7,89.8 155.6,90.0 155.6,90.2 155.6,90.4 155.6,90.6 155.6,90.8 155.6,91.0 155.6,91.2 155.6,91.4 155.6,91.6 155.6,91.8 155.6,92.0 155.6,92.2 155.6,92.4 155.6,92.6 155.6,92.8 155.6,93.0 155.6,93.2 155.6,93.4 155.6,93.6 155.6,93.8 155.6,94.0 155.6,94.2 155.6,94.4 155.6,94.6 155.6,94.8 155.6,95.0 155.6,95.2 155.6,95.4 155.6,95.6 155.6,95.8 155.6,96.0 155.6,96.2 155.6,96.4 155.6,96.6 155.6,96.8 155.6,97.0 155.6,97.2 155.6,97.4 155.6,97.6 155.6,97.8 155.6,98.0 155.6,98.2 155.6,98.4 155.6,98.6 155.6,98.8 155.6,99.0 155.6,99.2 155.6,99.4 155.6,99.6 155.6,99.8 155.6,100.0 155.6,100.2 155.6,100.4 155.6,100.6 155.6,100.8 155.6,101.0 155.5,101.2 155.5,101.4 155.4,101.6 155.3,101.8 155.3,102.0 155.2,102.2 155.1,102.4 155.1,102.6 155.0,102.8 154.9,103.0 154.9,103.2 154.8,103.4 154.7,103.6 154.7,103.8 154.6,104.0 154.6,104.2 154.6,104.4 154.6,104.6 154.6,104.8 154.6,105.0 154.6,105.2 154.6,105.4 154.6,105.6 154.6,105.8 154.6,106.0 154.6,106.2 154.6,106.4 154.6,106.6 154.6,106.8 154.6,107.0 154.6,107.2 154.6,107.4 154.6,107.6 154.6,107.8 154.6,108.0 154.6,108.2 154.6,108.4 154.6,108.6 154.6,108.8 154.6,109.0 154.6,109.2 154.6,109.4 154.6,109.6 154.6,109.8 154.6,110.0 154.6,110.2 154.6,110.4 154.6,110.6 154.6,110.8 154.6,111.0 154.6,111.2 154.6,111.4 154.6,111.6 154.6,111.8 154.6,112.0 154.7,112.2 154.7,112.4 154.8,112.6 154.9,112.8 154.9,113.0 155.0,113.2 155.1,113.4 155.2,113.6 155.4,113.8 155.6,114.0 155.9,114.2 156.2,114.4 156.6,114.6 157.1,114.8 157.5,115.0 157.8,115.2 158.0,115.4 158.0,115.6 158.2,115.8 159.3,116.0 160.6,116.2 161.8,116.4 162.7,116.6 163.2,116.8 163.2,117.0 162.7,117.2 161.8,117.4 160.6,117.6 159.3,117.8 159.1,118.0 159.7,118.2 160.0,118.4 160.0,118.6 159.7,118.8 159.1,119.0 158.4,119.2 157.7,119.4 159.0,119.6 161.0,119.8 163.6,120.0 166.6,120.2 169.7,120.4 172.4,120.6 174.3,120.8 175.0,121.0 174.3,121.2 172.4,121.4 169.7,121.6 166.6,121.8 163.6,122.0 161.0,122.2 160.0,122.4 160.0,122.6 159.7,122.8 159.1,123.0 158.4,123.2 157.7,123.4 157.1,123.6 156.6,123.8 156.6,124.0 157.0,124.2 157.3,124.4 157.7,124.6 157.9,124.8 158.0,125.0 157.9,125.2 157.7,125.4 157.3,125.6 157.0,125.8 156.6,126.0 156.3,126.2 156.0,126.4 156.0,126.6 156.4,126.8 157.1,127.0 158.2,127.2 159.9,127.4 162.2,127.6 165.0,127.8 168.1,128.0 171.1,128.2 173.5,128.4 174.8,128.6 174.8,128.8 173.5,129.0 171.1,129.2 168.1,129.4 165.0,129.6 162.2,129.8 159.9,130.0 159.9,130.2 162.2,130.4 165.0,130.6 168.1,130.8 171.1,131.0 173.5,131.2 174.8,131.4 174.8,131.6 173.5,131.8 171.1,132.0 168.1,132.2 165.0,132.4 162.2,132.6 159.9,132.8 159.5,133.0 160.9,133.2 162.4,133.4 163.8,133.6 164.7,133.8 165.0,134.0 164.7,134.2 163.8,134.4 162.4,134.6 160.9,134.8 161.2,135.0 163.6,135.2 166.2,135.4 168.7,135.6 170.7,135.8 171.9,136.0 171.9,136.2 170.7,136.4 168.7,136.6 166.2,136.8 163.6,137.0 161.2,137.2 159.3,137.4 158.6,137.6 160.6,137.8 163.6,138.0 167.4,138.2 171.9,138.4 176.5,138.6 180.6,138.8 183.4,139.0 184.4,139.2 183.4,139.4 180.6,139.6 176.5,139.8 171.9,140.0 167.4,140.2 169.2,140.4 174.3,140.6 179.6,140.8 184.3,141.0 187.5,141.2 188.7,141.4 187.5,141.6 184.3,141.8 179.6,142.0 174.3,142.2 169.2,142.4 164.8,142.6 161.4,142.8 164.2,143.0 168.3,143.2 173.0,143.4 178.0,143.6 182.3,143.8 185.3,144.0 186.4,144.2 185.3,144.4 182.3,144.6 178.0,144.8 173.0,145.0 169.2,145.2 174.3,145.4 179.6,145.6 184.3,145.8 187.5,146.0 188.7,146.2 187.5,146.4 184.3,146.6 179.6,146.8 174.3,147.0 169.2,147.2 164.8,147.4 162.6,147.6 164.9,147.8 167.1,148.0 168.9,148.2 169.9,148.4 169.9,148.6 168.9,148.8 167.1,149.0 164.9,149.2 162.6,149.4 160.5,149.6 158.8,149.8 159.5,150.0 160.9,150.2 162.4,150.4 163.8,150.6 164.7,150.8 165.0,151.0 164.7,151.2 163.8,151.4 162.4,151.6 160.9,151.8 159.5,152.0 158.2,152.2 158.8,152.4 159.4,152.6 159.8,152.8 160.0,153.0 159.8,153.2 159.4,153.4 158.8,153.6 158.1,153.8 157.4,154.0 156.8,154.2 156.5,154.4 157.1,154.6 157.9,154.8 159.1,155.0 160.4,155.2 161.7,155.4 162.9,155.6 163.7,155.8 164.0,156.0 163.7,156.2 162.9,156.4 161.7,156.6 160.4,156.8 159.1,157.0 157.9,157.2 157.1,157.4 156.5,157.6 156.8,157.8 157.4,158.0 158.1,158.2 158.8,158.4 159.4,158.6 159.8,158.8 160.0,159.0 159.8,159.2 159.4,159.4 158.8,159.6 158.1,159.8 157.4,160.0 156.8,160.2 156.7,160.4 157.4,160.6 158.5,160.8 159.9,161.0 161.5,161.2 163.2,161.4 164.6,161.6 165.6,161.8 166.0,162.0 165.6,162.2 164.6,162.4 163.2,162.6 161.5,162.8 159.9,163.0 158.5,163.2 157.4,163.4 158.2,163.6 159.1,163.8 159.9,164.0 160.6,164.2 161.0,164.4 161.0,164.6 160.6,164.8 159.9,165.0 159.1,165.2 158.2,165.4 157.4,165.6 158.2,165.8 159.5,166.0 160.9,166.2 162.4,166.4 163.8,166.6 164.7,166.8 165.0,167.0 164.7,167.2 163.8,167.4 162.4,167.6 160.9,167.8 159.5,168.0 158.2,168.2 157.2,168.4 157.7,168.6 158.4,168.8 159.1,169.0 159.7,169.2 160.0,169.4 160.0,169.6 159.7,169.8 159.1,170.0 158.4,170.2 157.7,170.4 157.4,170.6 158.5,170.8 159.9,171.0 161.5,171.2 163.2,171.4 164.6,171.6 165.6,171.8 166.0,172.0 165.6,172.2 164.6,172.4 163.2,172.6 161.5,172.8 159.9,173.0 158.5,173.2 157.4,173.4 158.2,173.6 159.1,173.8 159.9,174.0 160.6,174.2 161.0,174.4 161.0,174.6 160.6,174.8 159.9,175.0 159.1,175.2 158.2,175.4 157.4,175.6 157.9,175.8 159.1,176.0 160.4,176.2 161.7,176.4 162.9,176.6 163.7,176.8 164.0,177.0 163.7,177.2 162.9,177.4 161.7,177.6 160.4,177.8 159.1,178.0 157.9,178.2 157.1,178.4 157.3,178.6 157.8,178.8 158.3,179.0 158.7,179.2 159.0,179.4 159.0,179.6 158.7,179.8 158.3,180.0 157.8,180.2 157.3,180.4 157.2,180.6 158.2,180.8 159.5,181.0 160.9,181.2 162.4,181.4 163.8,181.6 164.7,181.8 165.0,182.0 164.7,182.2 163.8,182.4 162.4,182.6 160.9,182.8 159.5,183.0 158.2,183.2 157.2,183.4 157.7,183.6 158.4,183.8 159.1,184.0 159.7,184.2 160.0,184.4 160.0,184.6 159.7,184.8 159.1,185.0 158.4,185.2 157.7,185.4 157.1,185.6 157.7,185.8 158.6,186.0 159.8,186.2 161.0,186.4 162.0,186.6 162.7,186.8 163.0,187.0 162.7,187.2 162.0,187.4 161.0,187.6 159.8,187.8 158.6,188.0 157.7,188.2 156.9,188.4 156.8,188.6 157.2,188.8 157.5,189.0 157.8,189.2 158.0,189.4 158.0,189.6 157.8,189.8 157.5,190.0 157.2,190.2 156.8,190.4 156.7,190.6 157.4,190.8 158.2,191.0 159.2,191.2 160.2,191.4 161.2,191.6 161.8,191.8 162.0,192.0 161.8,192.2 161.2,192.4 160.2,192.6 159.2,192.8 158.2,193.0 157.4,193.2 156.7,193.4 156.8,193.6 157.2,193.8 157.5,194.0 157.8,194.2 158.0,194.4 158.0,194.6 157.8,194.8 157.5,195.0 157.2,195.2 156.8,195.4 156.5,195.6 157.1,195.8 157.8,196.0 158.7,196.2 159.5,196.4 160.3,196.6 160.8,196.8 161.0,197.0 160.8,197.2 160.3,197.4 159.5,197.6 158.7,197.8 157.8,198.0 157.1,198.2 156.5,198.4 156.3,198.6 156.5,198.8 156.7,199.0 156.9,199.2 157.0,199.4 157.0,199.6 156.9,199.8 156.7,200.0 156.5,200.2 156.3,200.4 156.2,200.6 156.5,200.8 157.0,201.0 157.5,201.2 158.1,201.4 158.5,201.6 158.9,201.8 159.0,202.0 158.9,202.2 158.5,202.4 158.1,202.6 157.5,202.8 157.0,203.0 156.5,203.2 156.2,203.4 156.0,203.6 156.2,203.8 156.3,204.0 156.4,204.2 156.5,204.4 156.5,204.6 156.4,204.8 155.3,205.0 155.2,205.2 155.0,205.4 154.9,205.6 154.8,205.8" fill="none" stroke="#5ab8ee" stroke-width="0.85" stroke-linejoin="round"/></g><line x1="156.1" y1="113" x2="260.5" y2="113" stroke="#707070" stroke-width="1.4" stroke-dasharray="2.9 3.3"/><rect x="154.6" y="19.2" width="105.9" height="187.10000000000002" fill="none" stroke="#555" stroke-width="1.2"/><line x1="167.8" y1="206.3" x2="167.8" y2="204.10000000000002" stroke="#555" stroke-width="1"/><line x1="181.1" y1="206.3" x2="181.1" y2="204.10000000000002" stroke="#555" stroke-width="1"/><line x1="194.3" y1="206.3" x2="194.3" y2="204.10000000000002" stroke="#555" stroke-width="1"/><line x1="207.6" y1="206.3" x2="207.6" y2="204.10000000000002" stroke="#555" stroke-width="1"/><line x1="220.8" y1="206.3" x2="220.8" y2="204.10000000000002" stroke="#555" stroke-width="1"/><line x1="234.0" y1="206.3" x2="234.0" y2="204.10000000000002" stroke="#555" stroke-width="1"/><line x1="247.3" y1="206.3" x2="247.3" y2="204.10000000000002" stroke="#555" stroke-width="1"/><line x1="417.8" y1="22.6" x2="417.8" y2="209.6" stroke="#555" stroke-width="1.1" stroke-dasharray="3 3.4"/><rect x="308.1" y="22.6" width="219.69999999999993" height="187.0" fill="none" stroke="#333" stroke-width="1.4"/><line x1="308.1" y1="115.8" x2="527.8" y2="115.8" stroke="#333" stroke-width="1.1"/><g clip-path="url(#cpP1)"><path d="M308.2,110.0 C308.5,108.1 309.3,98.1 309.9,98.4 C310.4,98.7 311.0,109.2 311.5,112.0 C312.0,114.8 282.1,114.9 313.0,115.5 C343.9,116.1 466.0,116.2 497.0,115.5 C528.0,114.8 498.3,112.9 499.0,111.0 C499.7,109.1 500.6,104.2 501.4,104.0 C502.1,103.8 502.7,109.0 503.5,110.0 C504.3,111.0 505.0,111.0 506.0,110.0 C507.0,109.0 508.5,104.2 509.5,104.0 C510.5,103.8 511.1,107.8 512.0,109.0 C512.9,110.2 514.0,110.5 515.0,111.0 C516.0,111.5 517.0,111.8 518.0,112.0 C519.0,112.2 520.0,112.3 521.0,112.5 C522.0,112.7 522.9,112.8 524.0,113.0 C525.1,113.2 526.9,113.4 527.5,113.5" fill="none" stroke="#2a2a2a" stroke-width="0.9" stroke-linejoin="round"/><path d="M308.2,105.0 C308.4,97.5 309.1,69.9 309.5,60.0 C309.9,50.1 310.2,40.5 310.6,45.8 C311.0,51.1 311.5,80.6 312.0,92.0 C312.5,103.4 312.5,110.2 313.5,114.0 C314.5,117.8 316.8,118.9 318.0,114.5 C319.2,110.1 319.9,87.6 320.7,87.5 C321.4,87.4 321.7,109.6 322.5,114.0 C323.3,118.4 324.4,123.9 325.5,114.0 C326.6,104.1 327.9,60.6 328.9,54.6 C329.9,48.6 330.5,76.3 331.3,78.0 C332.1,79.7 332.9,63.3 333.7,65.0 C334.4,66.7 335.1,86.2 335.8,88.0 C336.5,89.8 337.3,74.0 338.0,76.0 C338.7,78.0 339.4,95.8 340.0,100.0 C340.6,104.2 341.1,103.5 341.8,101.0 C342.5,98.5 343.4,86.0 344.1,84.8 C344.8,83.6 345.3,93.5 345.8,94.0 C346.3,94.5 346.5,85.5 347.0,88.0 C347.5,90.5 348.0,104.8 349.0,109.0 C350.0,113.2 351.8,118.7 353.0,113.0 C354.2,107.3 355.5,77.2 356.3,75.0 C357.1,72.8 357.4,93.7 358.0,100.0 C358.6,106.3 359.2,111.9 359.8,112.6 C360.4,113.3 360.9,104.8 361.6,104.0 C362.3,103.2 363.3,108.7 364.0,108.0 C364.7,107.3 365.3,104.9 366.0,100.0 C366.7,95.1 367.6,77.8 368.3,78.5 C369.1,79.2 369.8,98.2 370.5,104.0 C371.2,109.8 371.6,112.3 372.3,113.0 C373.1,113.7 374.3,109.5 375.0,108.0 C375.7,106.5 375.9,107.6 376.5,104.0 C377.1,100.4 378.1,87.2 378.8,86.5 C379.5,85.8 379.9,98.4 380.5,100.0 C381.1,101.6 381.7,94.0 382.4,96.0 C383.1,98.0 383.9,110.3 384.9,112.0 C385.8,113.7 387.1,106.2 388.1,106.4 C389.2,106.6 390.3,113.7 391.2,113.0 C392.1,112.3 392.8,105.3 393.5,102.0 C394.2,98.7 394.9,92.4 395.6,92.9 C396.3,93.4 397.2,101.5 397.8,105.0 C398.4,108.5 398.0,113.1 398.9,114.0 C399.8,114.9 402.2,110.7 403.2,110.5 C404.2,110.3 404.3,112.8 405.0,113.0 C405.7,113.2 406.6,111.5 407.3,111.7 C408.0,112.0 407.4,113.9 409.0,114.5 C410.6,115.1 408.2,115.3 417.0,115.5 C425.8,115.7 454.0,115.8 462.0,115.5 C470.0,115.2 464.1,115.0 465.0,114.0 C465.9,113.0 466.4,109.8 467.2,109.7 C467.9,109.6 468.6,114.3 469.5,113.5 C470.4,112.7 471.7,106.0 472.5,105.1 C473.3,104.2 473.9,109.0 474.5,108.0 C475.1,107.0 475.8,99.8 476.4,99.2 C477.0,98.6 477.7,103.6 478.4,104.4 C479.1,105.2 479.6,107.5 480.4,103.8 C481.1,100.1 482.3,89.1 482.9,82.0 C483.5,74.9 483.5,61.3 483.8,61.3 C484.1,61.3 484.4,75.1 484.7,82.0 C485.0,88.9 485.3,99.3 485.8,102.5 C486.3,105.7 486.8,103.5 487.6,101.1 C488.4,98.7 489.9,92.5 490.5,88.0 C491.1,83.5 491.2,74.4 491.5,74.1 C491.8,73.8 492.0,82.9 492.5,86.0 C493.0,89.1 493.8,88.2 494.3,92.5 C494.9,96.8 495.2,109.9 495.8,112.0 C496.4,114.1 497.2,107.5 498.1,105.0 C499.0,102.5 500.4,97.0 501.4,97.2 C502.4,97.4 503.1,105.0 504.0,106.4 C504.9,107.8 505.7,106.7 506.6,105.7 C507.6,104.7 508.8,100.5 509.7,100.5 C510.6,100.5 511.1,104.5 512.0,106.0 C512.9,107.5 514.2,109.3 515.2,109.7 C516.2,110.1 517.0,108.4 517.8,108.4 C518.6,108.5 519.2,109.6 520.0,110.0 C520.8,110.4 521.7,110.5 522.5,111.0 C523.3,111.5 524.2,112.8 525.0,113.0 C525.8,113.2 527.1,112.4 527.5,112.3" fill="none" stroke="#ec3b3b" stroke-width="0.9" stroke-linejoin="round"/><path d="M308.2,112.0 C308.4,111.0 309.1,107.1 309.5,106.0 C309.9,104.9 310.1,104.3 310.5,105.5 C310.9,106.7 311.5,111.3 312.0,113.0 C312.5,114.7 311.0,115.1 313.5,115.5 C316.0,115.9 324.4,115.8 327.0,115.5 C329.6,115.2 328.4,113.5 329.0,113.5 C329.6,113.5 330.1,115.8 330.5,115.5 C330.9,115.2 331.1,113.4 331.5,112.0 C331.9,110.6 332.4,107.1 332.9,107.3 C333.4,107.5 334.0,111.6 334.5,113.0 C335.0,114.4 334.7,115.1 336.0,115.5 C337.3,115.9 341.1,116.4 342.5,115.5 C343.9,114.6 343.6,110.0 344.2,110.0 C344.8,110.0 342.3,114.6 346.0,115.5 C349.7,116.4 362.8,115.9 366.5,115.5 C370.2,115.1 367.5,113.0 368.0,113.0 C368.5,113.0 349.3,115.1 369.5,115.5 C389.7,115.9 468.8,115.9 489.0,115.5 C509.2,115.1 489.9,114.3 490.5,113.0 C491.1,111.7 492.1,107.5 492.9,107.7 C493.7,107.9 494.6,113.5 495.5,114.0 C496.4,114.5 497.1,112.9 498.0,111.0 C498.9,109.1 499.9,102.7 500.7,102.5 C501.5,102.3 502.2,108.6 503.0,110.0 C503.8,111.4 504.8,111.3 505.5,111.0 C506.2,110.7 506.8,109.8 507.5,108.0 C508.2,106.2 508.9,100.5 509.7,100.5 C510.4,100.5 511.1,106.4 512.0,108.0 C512.9,109.6 514.0,109.5 515.0,110.0 C516.0,110.5 517.0,110.5 518.0,111.0 C519.0,111.5 520.0,112.8 521.0,113.0 C522.0,113.2 522.9,111.8 524.0,112.0 C525.1,112.2 526.9,113.7 527.5,114.0" fill="none" stroke="#2456d0" stroke-width="0.9" stroke-linejoin="round"/><path d="M308.2,100.0 C308.4,93.3 309.1,68.6 309.5,60.0 C309.9,51.4 310.2,43.3 310.6,48.3 C311.0,53.3 311.5,79.2 312.0,90.0 C312.5,100.8 312.8,109.7 313.5,113.0 C314.2,116.3 315.2,110.0 316.0,110.0 C316.8,110.0 317.2,116.5 318.0,113.0 C318.8,109.5 319.9,89.0 320.6,89.0 C321.4,89.0 321.7,109.0 322.5,113.0 C323.3,117.0 324.4,122.7 325.5,113.0 C326.6,103.3 327.9,61.3 328.9,55.0 C329.9,48.7 330.5,73.8 331.3,75.0 C332.1,76.2 332.9,61.3 333.7,62.5 C334.4,63.7 335.1,80.2 335.8,82.0 C336.5,83.8 337.3,71.1 338.0,73.3 C338.7,75.5 339.4,90.9 340.0,95.0 C340.6,99.1 341.1,100.7 341.8,98.0 C342.5,95.3 343.6,80.7 344.3,79.0 C345.0,77.3 345.4,87.0 345.8,88.0 C346.2,89.0 346.5,81.8 347.0,85.0 C347.5,88.2 348.3,103.2 349.0,107.0 C349.7,110.8 350.3,107.2 351.0,108.0 C351.7,108.8 352.1,118.5 353.0,112.0 C353.9,105.5 355.5,72.0 356.3,69.2 C357.1,66.4 357.4,87.8 358.0,95.0 C358.6,102.2 359.2,111.4 359.8,112.6 C360.4,113.8 361.1,103.0 361.6,101.9 C362.1,100.8 362.4,106.0 362.8,106.0 C363.2,106.0 363.8,103.7 364.3,101.9 C364.8,100.1 365.3,101.9 366.0,95.0 C366.7,88.1 367.6,59.6 368.3,60.4 C369.1,61.2 369.8,91.3 370.5,100.0 C371.2,108.7 371.6,111.7 372.3,112.6 C373.1,113.5 374.3,107.6 375.0,105.5 C375.7,103.4 375.9,106.2 376.5,100.0 C377.1,93.8 378.1,70.6 378.8,68.1 C379.5,65.6 379.9,83.3 380.5,85.0 C381.1,86.7 381.7,74.2 382.4,78.5 C383.1,82.8 383.9,108.4 384.9,110.8 C385.8,113.2 387.1,92.6 388.1,92.9 C389.2,93.2 390.3,114.8 391.2,112.6 C392.1,110.4 392.7,90.9 393.5,80.0 C394.3,69.1 395.1,44.8 395.8,47.3 C396.5,49.8 397.3,84.0 397.8,95.0 C398.3,106.0 398.4,111.3 398.9,113.5 C399.4,115.7 400.3,110.8 401.0,108.0 C401.7,105.2 402.5,97.2 403.2,96.5 C403.9,95.8 404.3,105.7 405.0,104.0 C405.7,102.3 406.5,86.3 407.2,86.5 C407.9,86.7 408.4,100.5 409.0,105.0 C409.6,109.5 409.8,113.1 410.5,113.5 C411.2,113.9 412.5,107.3 413.2,107.3 C413.9,107.3 414.2,112.1 414.8,113.5 C415.4,114.9 407.8,115.2 417.0,115.5 C426.2,115.8 460.7,115.8 470.0,115.5 C479.3,115.2 471.9,114.6 473.0,114.0 C474.1,113.4 475.4,111.8 476.4,111.7 C477.4,111.6 477.7,114.0 479.0,113.5 C480.3,113.0 483.0,108.7 484.3,108.4 C485.6,108.1 486.2,111.2 487.0,111.5 C487.8,111.8 488.2,111.5 489.0,110.0 C489.8,108.5 490.7,102.7 491.5,102.5 C492.3,102.3 493.1,107.8 494.0,109.0 C494.9,110.2 495.9,111.3 497.0,110.0 C498.1,108.7 499.5,101.7 500.7,101.1 C501.9,100.5 502.9,105.5 504.0,106.5 C505.1,107.5 506.1,107.7 507.0,107.0 C507.9,106.3 508.5,102.7 509.3,102.5 C510.1,102.3 511.1,105.1 512.0,106.0 C513.0,106.9 514.2,107.8 515.0,108.0 C515.8,108.2 516.1,108.1 517.0,107.5 C517.9,106.9 519.3,104.0 520.4,104.4 C521.5,104.8 522.6,109.4 523.5,110.0 C524.4,110.6 525.3,108.4 526.0,108.0 C526.7,107.6 527.2,107.8 527.5,107.7" fill="none" stroke="#35a765" stroke-width="0.9" stroke-linejoin="round"/></g><g clip-path="url(#cpP2)"><path d="M308.2,209.2 C308.8,208.9 310.9,208.1 312.0,207.5 C313.1,206.9 314.0,205.6 315.0,205.6 C316.0,205.6 316.3,206.9 318.0,207.5 C319.7,208.1 323.1,209.7 325.0,209.4 C326.9,209.1 328.0,205.6 329.3,205.6 C330.6,205.6 328.6,208.8 333.0,209.4 C337.4,210.0 351.8,210.3 356.0,209.4 C360.2,208.5 357.4,205.6 358.0,204.0 C358.6,202.4 359.2,200.2 359.9,200.0 C360.6,199.8 361.3,203.0 362.0,203.0 C362.7,203.0 363.5,200.0 364.2,200.0 C364.9,200.0 365.4,201.8 366.0,203.0 C366.6,204.2 367.2,206.4 368.0,207.5 C368.8,208.6 370.0,209.7 371.0,209.4 C372.0,209.1 373.2,205.5 374.0,205.5 C374.8,205.5 365.0,208.5 376.0,209.2 C387.0,209.8 428.2,209.7 440.0,209.4 C451.8,209.2 444.8,208.1 446.5,207.7 C448.2,207.3 448.7,208.4 450.0,207.0 C451.3,205.6 453.1,199.5 454.1,199.0 C455.1,198.5 455.3,203.6 456.0,204.0 C456.7,204.4 457.6,200.9 458.4,201.2 C459.1,201.5 459.7,205.5 460.5,206.0 C461.3,206.5 462.3,205.0 463.0,204.0 C463.7,203.0 464.2,201.5 464.9,200.1 C465.6,198.7 466.2,197.1 467.1,195.8 C468.0,194.5 469.2,193.2 470.3,192.5 C471.4,191.8 472.8,192.3 473.6,191.4 C474.4,190.5 474.6,188.4 475.0,187.0 C475.4,185.6 475.4,183.7 475.8,182.8 C476.2,181.9 476.9,181.2 477.3,181.7 C477.8,182.2 478.1,183.6 478.5,186.0 C478.9,188.4 479.2,193.1 479.5,196.0 C479.8,198.9 479.7,201.5 480.1,203.3 C480.5,205.1 481.4,207.4 482.0,207.0 C482.6,206.6 483.4,200.9 484.0,200.7 C484.6,200.5 484.8,204.6 485.5,206.0 C486.2,207.4 481.0,208.6 488.0,209.2 C495.0,209.8 520.9,209.4 527.5,209.4" fill="none" stroke="#2a2a2a" stroke-width="0.9" stroke-linejoin="round"/><path d="M308.2,195.0 C308.3,194.8 308.3,192.4 308.6,193.6 C308.9,194.8 309.4,201.3 310.0,202.0 C310.6,202.7 311.0,200.8 312.0,198.0 C313.0,195.2 314.9,186.2 315.8,184.9 C316.7,183.6 317.0,188.2 317.5,190.0 C318.0,191.8 318.1,193.3 318.6,196.0 C319.1,198.7 319.8,204.3 320.5,206.0 C321.2,207.7 322.1,207.0 323.0,206.0 C323.9,205.0 325.0,202.6 326.0,200.0 C327.0,197.4 328.1,191.1 328.8,190.3 C329.5,189.5 329.5,193.2 330.0,195.0 C330.5,196.8 331.1,200.7 331.6,201.2 C332.1,201.7 332.5,198.9 333.0,198.0 C333.5,197.1 333.9,195.7 334.5,196.0 C335.1,196.3 335.6,200.1 336.3,200.1 C337.0,200.1 337.8,198.3 338.5,196.0 C339.2,193.7 340.0,187.5 340.7,186.2 C341.4,184.9 341.9,186.5 342.5,188.0 C343.1,189.5 343.4,192.8 344.0,195.0 C344.6,197.2 345.2,200.1 346.0,201.0 C346.8,201.9 347.9,200.2 348.6,200.4 C349.3,200.6 349.4,202.1 350.0,202.0 C350.6,201.9 351.3,199.8 352.0,200.0 C352.7,200.2 353.3,202.8 354.0,203.0 C354.7,203.2 355.4,201.0 356.0,201.0 C356.6,201.0 357.1,204.0 357.7,203.0 C358.3,202.0 358.8,199.5 359.5,195.0 C360.2,190.5 361.3,178.0 362.0,176.0 C362.7,174.0 362.9,182.5 363.5,183.0 C364.1,183.5 365.0,177.5 365.6,179.0 C366.2,180.5 366.6,188.0 367.0,192.0 C367.4,196.0 367.5,200.5 368.0,203.0 C368.5,205.5 369.3,206.5 370.0,207.0 C370.7,207.5 371.3,206.5 372.0,206.0 C372.7,205.5 373.2,206.2 374.0,204.0 C374.8,201.8 376.3,195.1 377.0,192.5 C377.7,189.9 377.8,186.9 378.3,188.2 C378.8,189.4 379.4,196.9 380.0,200.0 C380.6,203.1 381.3,205.4 382.0,207.0 C382.7,208.6 373.5,209.0 384.0,209.4 C394.5,209.8 434.3,209.8 445.0,209.4 C455.7,209.0 447.0,207.9 448.0,207.0 C449.0,206.1 450.0,205.3 451.0,204.0 C452.0,202.7 453.3,198.8 454.1,199.0 C454.9,199.2 455.4,204.3 456.0,205.0 C456.6,205.7 456.9,204.0 457.5,203.0 C458.1,202.0 458.8,198.5 459.5,199.0 C460.2,199.5 460.8,205.0 461.5,206.0 C462.2,207.0 463.1,205.2 464.0,205.0 C464.9,204.8 466.0,205.0 467.0,205.0 C468.0,205.0 469.2,205.3 470.0,205.0 C470.8,204.7 471.2,203.3 472.0,203.0 C472.8,202.7 474.0,203.1 475.0,203.0 C476.0,202.9 477.1,201.9 477.9,202.2 C478.7,202.5 479.3,204.4 480.0,205.0 C480.7,205.6 481.3,206.2 482.0,206.0 C482.7,205.8 483.2,203.8 484.0,204.0 C484.8,204.2 486.0,206.5 487.0,207.0 C488.0,207.5 489.0,207.6 490.0,207.0 C491.0,206.4 492.3,203.9 493.1,203.3 C493.9,202.7 494.0,203.5 494.7,203.3 C495.4,203.1 496.6,201.7 497.3,202.0 C498.0,202.3 498.3,204.8 499.0,205.0 C499.7,205.2 500.5,203.3 501.3,203.3 C502.1,203.3 503.1,204.9 504.0,205.0 C504.9,205.1 505.9,204.0 506.7,204.0 C507.5,204.0 508.3,204.9 509.0,205.0 C509.7,205.1 510.2,204.5 511.0,204.5 C511.8,204.5 513.0,205.5 514.0,205.0 C515.0,204.5 515.9,201.3 516.7,201.3 C517.5,201.3 518.1,204.3 519.0,205.0 C519.9,205.7 521.0,205.6 522.0,205.5 C523.0,205.4 523.8,204.5 524.7,204.7 C525.6,204.9 527.0,206.2 527.5,206.5" fill="none" stroke="#ec3b3b" stroke-width="0.9" stroke-linejoin="round"/><path d="M308.2,209.4 C330.2,209.4 416.2,209.4 440.0,209.4 C463.8,209.4 448.8,209.8 451.0,209.2 C453.2,208.5 452.3,205.5 453.0,205.5 C453.7,205.5 453.3,208.9 455.0,209.2 C456.7,209.5 461.2,208.3 463.0,207.5 C464.8,206.7 465.0,204.4 466.0,204.4 C467.0,204.4 467.7,207.1 469.0,207.5 C470.3,207.9 472.7,207.7 474.0,207.0 C475.3,206.3 476.0,203.2 476.8,203.3 C477.6,203.4 477.6,206.5 479.0,207.5 C480.4,208.5 476.9,208.9 485.0,209.2 C493.1,209.5 520.4,209.3 527.5,209.3" fill="none" stroke="#2456d0" stroke-width="0.9" stroke-linejoin="round"/><path d="M308.2,190.0 C308.3,189.7 308.3,186.3 308.6,188.2 C308.9,190.1 309.3,200.1 309.9,201.2 C310.5,202.3 311.3,197.7 312.0,195.0 C312.7,192.3 313.4,187.7 314.0,185.0 C314.6,182.3 315.3,179.1 315.8,179.1 C316.3,179.1 316.5,182.4 317.0,185.0 C317.5,187.6 318.1,192.2 318.6,194.7 C319.1,197.2 319.6,198.4 320.0,200.0 C320.4,201.6 320.7,203.9 321.2,204.4 C321.7,204.9 322.4,204.6 323.0,203.0 C323.6,201.4 324.3,198.8 325.0,195.0 C325.7,191.2 326.4,184.1 327.0,180.0 C327.6,175.9 328.2,171.2 328.8,170.4 C329.4,169.6 330.3,174.8 330.9,175.2 C331.5,175.6 331.9,170.8 332.5,173.0 C333.1,175.2 334.0,186.8 334.8,188.2 C335.6,189.6 336.7,182.1 337.4,181.7 C338.1,181.3 338.3,191.1 339.0,186.0 C339.7,180.9 340.8,153.8 341.6,151.4 C342.4,149.0 343.4,167.6 344.0,171.5 C344.6,175.4 344.6,171.3 345.0,175.0 C345.4,178.7 345.5,190.4 346.1,193.6 C346.7,196.8 347.9,194.6 348.5,194.0 C349.1,193.4 349.4,190.0 349.8,190.0 C350.2,190.0 350.6,193.9 351.0,194.0 C351.4,194.1 351.8,191.3 352.3,190.3 C352.8,189.3 353.2,189.4 353.8,188.0 C354.4,186.6 355.1,182.0 355.6,181.7 C356.1,181.4 356.5,186.0 357.0,186.0 C357.5,186.0 358.3,181.9 358.8,181.7 C359.3,181.5 359.6,185.9 360.0,185.0 C360.4,184.1 360.9,176.3 361.4,176.3 C361.9,176.3 362.4,185.2 363.0,185.0 C363.6,184.8 364.3,175.2 364.9,175.2 C365.5,175.2 366.0,180.3 366.5,185.0 C367.0,189.7 367.4,199.6 368.0,203.3 C368.6,207.0 369.3,206.7 370.0,207.0 C370.7,207.3 371.3,207.2 372.0,205.0 C372.7,202.8 373.7,195.1 374.4,193.6 C375.1,192.1 375.4,199.2 376.0,196.0 C376.6,192.8 377.6,175.1 378.3,174.1 C379.0,173.1 379.4,184.8 380.0,190.0 C380.6,195.2 381.1,202.3 381.6,205.5 C382.1,208.7 373.3,208.8 383.0,209.4 C392.7,210.1 429.4,209.7 440.0,209.4 C450.6,209.1 444.8,208.4 446.5,207.7 C448.2,207.0 448.9,206.3 450.0,205.0 C451.1,203.7 452.2,199.9 453.0,200.1 C453.8,200.3 454.2,205.2 455.0,206.0 C455.8,206.8 457.2,204.8 458.0,205.0 C458.8,205.2 459.2,207.0 460.0,207.0 C460.8,207.0 462.0,205.7 463.0,205.0 C464.0,204.3 465.1,203.8 466.0,203.0 C466.9,202.2 467.5,200.6 468.2,200.1 C468.9,199.6 469.3,200.2 470.0,200.0 C470.7,199.8 471.5,199.7 472.5,199.0 C473.5,198.3 474.9,196.2 475.8,195.8 C476.7,195.4 477.3,195.3 478.0,196.8 C478.7,198.3 479.3,203.3 480.0,205.0 C480.7,206.7 481.3,207.0 482.0,207.0 C482.7,207.0 483.3,205.0 484.0,205.0 C484.7,205.0 485.0,206.6 486.0,207.0 C487.0,207.4 488.5,207.5 490.0,207.5 C491.5,207.5 493.3,207.2 495.0,207.0 C496.7,206.8 498.3,206.5 500.0,206.5 C501.7,206.5 503.3,206.9 505.0,207.0 C506.7,207.1 508.1,207.2 510.0,207.0 C511.9,206.8 515.0,206.0 516.7,206.0 C518.4,206.0 518.2,206.8 520.0,207.0 C521.8,207.2 526.2,207.4 527.5,207.5" fill="none" stroke="#35a765" stroke-width="0.9" stroke-linejoin="round"/></g><line x1="308.1" y1="115.8" x2="310.6" y2="115.8" stroke="#333" stroke-width="1"/><line x1="308.1" y1="106.5" x2="309.6" y2="106.5" stroke="#333" stroke-width="1"/><line x1="308.1" y1="97.2" x2="310.6" y2="97.2" stroke="#333" stroke-width="1"/><line x1="308.1" y1="87.8" x2="309.6" y2="87.8" stroke="#333" stroke-width="1"/><line x1="308.1" y1="78.5" x2="310.6" y2="78.5" stroke="#333" stroke-width="1"/><line x1="308.1" y1="69.2" x2="309.6" y2="69.2" stroke="#333" stroke-width="1"/><line x1="308.1" y1="59.9" x2="310.6" y2="59.9" stroke="#333" stroke-width="1"/><line x1="308.1" y1="50.6" x2="309.6" y2="50.6" stroke="#333" stroke-width="1"/><line x1="308.1" y1="41.2" x2="310.6" y2="41.2" stroke="#333" stroke-width="1"/><line x1="308.1" y1="31.9" x2="309.6" y2="31.9" stroke="#333" stroke-width="1"/><line x1="308.1" y1="22.6" x2="310.6" y2="22.6" stroke="#333" stroke-width="1"/><line x1="308.1" y1="196.0" x2="309.6" y2="196.0" stroke="#333" stroke-width="1"/><line x1="308.1" y1="182.3" x2="310.6" y2="182.3" stroke="#333" stroke-width="1"/><line x1="308.1" y1="168.7" x2="309.6" y2="168.7" stroke="#333" stroke-width="1"/><line x1="308.1" y1="155.1" x2="310.6" y2="155.1" stroke="#333" stroke-width="1"/><line x1="308.1" y1="141.5" x2="309.6" y2="141.5" stroke="#333" stroke-width="1"/><line x1="308.1" y1="127.8" x2="310.6" y2="127.8" stroke="#333" stroke-width="1"/><line x1="308.1" y1="209.6" x2="308.1" y2="207.1" stroke="#333" stroke-width="1"/><line x1="330.1" y1="209.6" x2="330.1" y2="208.1" stroke="#333" stroke-width="1"/><line x1="352.0" y1="209.6" x2="352.0" y2="208.1" stroke="#333" stroke-width="1"/><line x1="374.0" y1="209.6" x2="374.0" y2="208.1" stroke="#333" stroke-width="1"/><line x1="396.0" y1="209.6" x2="396.0" y2="208.1" stroke="#333" stroke-width="1"/><line x1="417.9" y1="209.6" x2="417.9" y2="207.1" stroke="#333" stroke-width="1"/><line x1="439.9" y1="209.6" x2="439.9" y2="208.1" stroke="#333" stroke-width="1"/><line x1="461.9" y1="209.6" x2="461.9" y2="208.1" stroke="#333" stroke-width="1"/><line x1="483.9" y1="209.6" x2="483.9" y2="208.1" stroke="#333" stroke-width="1"/><line x1="505.8" y1="209.6" x2="505.8" y2="208.1" stroke="#333" stroke-width="1"/><line x1="527.8" y1="209.6" x2="527.8" y2="207.1" stroke="#333" stroke-width="1"/><line x1="190" y1="27.3" x2="214.5" y2="27.3" stroke="#777" stroke-width="1.6"/><line x1="190" y1="40.55" x2="214.5" y2="40.55" stroke="#f5aa70" stroke-width="1.6"/><line x1="190" y1="53.8" x2="214.5" y2="53.8" stroke="#8ccff2" stroke-width="1.6"/><line x1="423" y1="32.5" x2="447" y2="32.5" stroke="#8a8a8a" stroke-width="1.6"/><line x1="423" y1="45.8" x2="447" y2="45.8" stroke="#f59a9a" stroke-width="1.6"/><line x1="423" y1="59.1" x2="447" y2="59.1" stroke="#6f9fe2" stroke-width="1.6"/><line x1="423" y1="72.4" x2="447" y2="72.4" stroke="#7ccb98" stroke-width="1.6"/><line x1="423" y1="130" x2="447" y2="130" stroke="#999" stroke-width="1.6"/><line x1="423" y1="143" x2="447" y2="143" stroke="#f26a6a" stroke-width="1.6"/><line x1="423" y1="156" x2="447" y2="156" stroke="#6f9fe2" stroke-width="1.6"/><line x1="423" y1="169" x2="447" y2="169" stroke="#7ccb98" stroke-width="1.6"/>
<g fill="#000" stroke="#000" stroke-width="0.35"><text x="1.0" y="10.4" font-size="11.6" text-anchor="start" >(a)</text><text x="270.2" y="12.9" font-size="11.6" text-anchor="start" >(b)</text><text x="36.4" y="22.8" font-size="10.5" text-anchor="end" >5</text><text x="36.4" y="116.6" font-size="10.5" text-anchor="end" >0</text><text x="36.4" y="210.0" font-size="10.5" text-anchor="end" >-5</text><text x="40" y="218.5" font-size="10.5" text-anchor="middle" >Γ</text><text x="78.4" y="218.5" font-size="10.5" text-anchor="middle" >M</text><text x="101.0" y="218.5" font-size="10.5" text-anchor="middle" >K</text><text x="145.5" y="218.5" font-size="10.5" text-anchor="middle" >Γ</text><text x="92.8" y="235.9" font-size="10.6" text-anchor="middle" >GeC/InS</text><text x="0" y="0" font-size="10.5" text-anchor="middle" transform="translate(24.2,111.9) rotate(-90)">Energy(eV)</text><text x="90.6" y="101.3" font-size="10" text-anchor="start" >1.54 eV</text><text x="154.6" y="219.4" font-size="10.5" text-anchor="middle" >0</text><text x="181.1" y="219.4" font-size="10.5" text-anchor="middle" >10</text><text x="207.6" y="219.4" font-size="10.5" text-anchor="middle" >20</text><text x="234.0" y="219.4" font-size="10.5" text-anchor="middle" >30</text><text x="260.5" y="219.4" font-size="10.5" text-anchor="middle" >40</text><text x="207.8" y="236.6" font-size="10.5" text-anchor="middle" >DOS(a.u.)</text><text x="217.5" y="31.0" font-size="10.5" text-anchor="start" >GeC/InS</text><text x="217.5" y="44.25" font-size="10.5" text-anchor="start" >InS</text><text x="217.5" y="57.5" font-size="10.5" text-anchor="start" >GeC</text><text x="304.6" y="119.5" font-size="10.5" text-anchor="end" >0</text><text x="304.6" y="100.9" font-size="10.5" text-anchor="end" >1</text><text x="304.6" y="82.2" font-size="10.5" text-anchor="end" >2</text><text x="304.6" y="63.6" font-size="10.5" text-anchor="end" >3</text><text x="304.6" y="44.9" font-size="10.5" text-anchor="end" >4</text><text x="304.6" y="26.3" font-size="10.5" text-anchor="end" >5</text><text x="304.6" y="213.3" font-size="10.5" text-anchor="end" >0</text><text x="304.6" y="186.0" font-size="10.5" text-anchor="end" >5</text><text x="304.6" y="158.8" font-size="10.5" text-anchor="end" >10</text><text x="304.6" y="131.5" font-size="10.5" text-anchor="end" >15</text><text x="308.1" y="221.6" font-size="10.5" text-anchor="middle" >-5</text><text x="417.9" y="221.6" font-size="10.5" text-anchor="middle" >0</text><text x="527.8" y="221.6" font-size="10.5" text-anchor="middle" >5</text><text x="427" y="232.0" font-size="10.5" text-anchor="middle" >Energy(eV)</text><text x="0" y="0" font-size="10.8" text-anchor="middle" transform="translate(288.3,118.4) rotate(-90)">PDOS(a.u.)</text><text x="450" y="36.9" font-size="10.5" text-anchor="start" >Ge-s</text><text x="450" y="50.2" font-size="10.5" text-anchor="start" >Ge-p</text><text x="450" y="63.5" font-size="10.5" text-anchor="start" >C-s</text><text x="450" y="76.8" font-size="10.5" text-anchor="start" >C-p</text><text x="450.5" y="134.4" font-size="10.5" text-anchor="start" >In-s</text><text x="450.5" y="147.4" font-size="10.5" text-anchor="start" >In-p</text><text x="450.5" y="160.4" font-size="10.5" text-anchor="start" >S-s</text><text x="450.5" y="173.4" font-size="10.5" text-anchor="start" >S-p</text></g>
</svg>
</body></html>
